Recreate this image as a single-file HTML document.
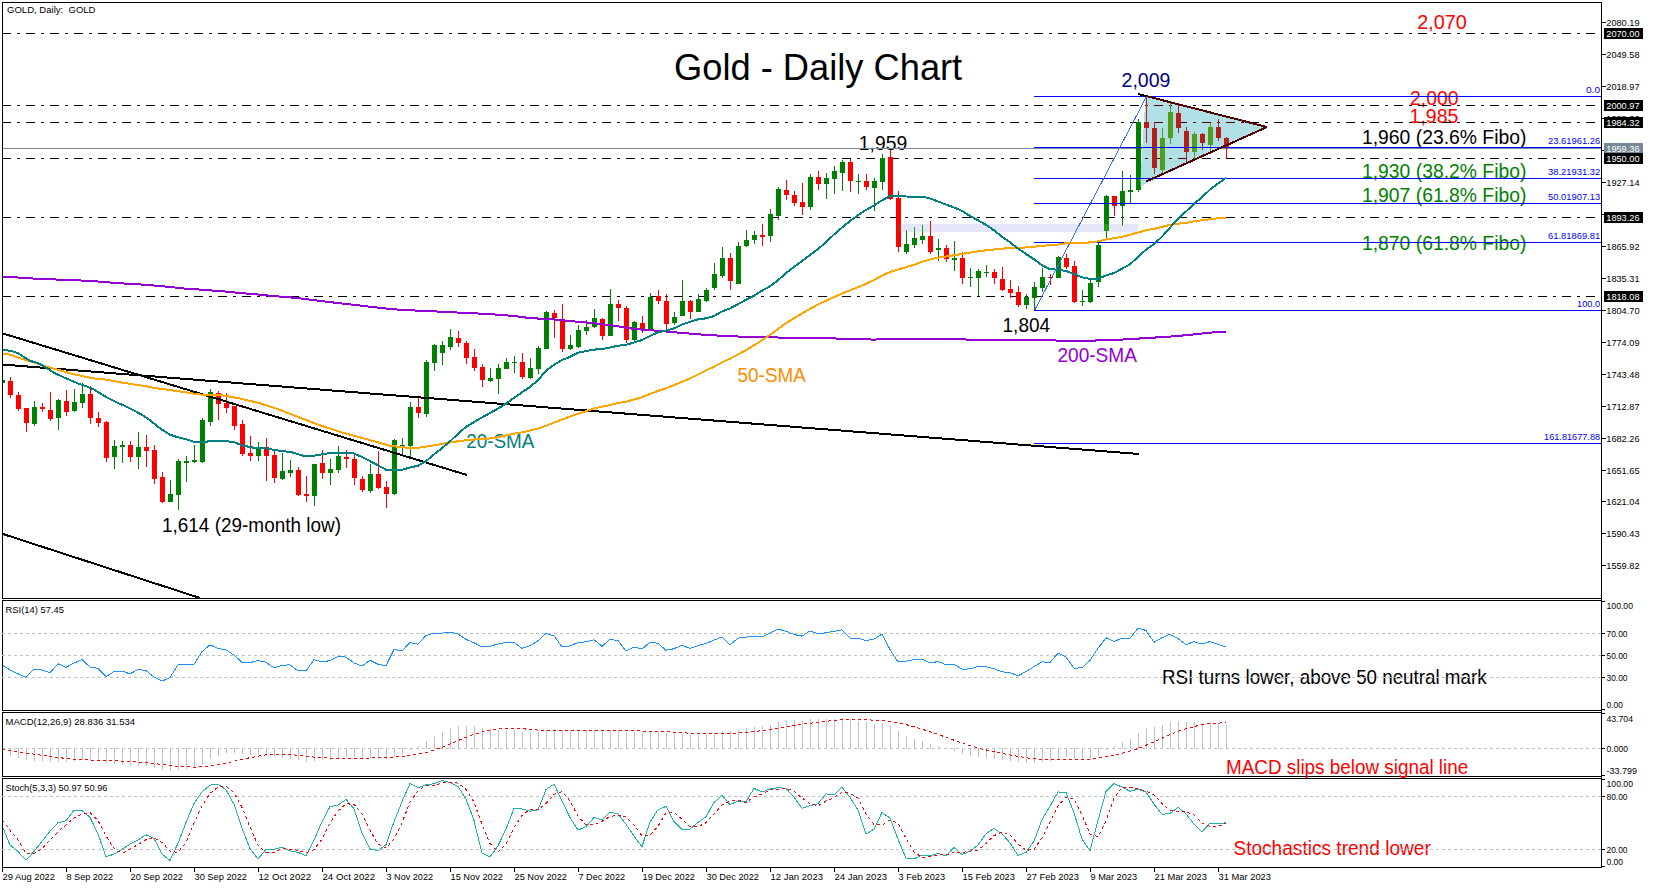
<!DOCTYPE html><html><head><meta charset="utf-8"><style>html,body{margin:0;padding:0;background:#fff;overflow:hidden;font-family:"Liberation Sans",sans-serif}svg{display:block}</style></head><body><svg width="1654" height="888" viewBox="0 0 1654 888" font-family="'Liberation Sans', sans-serif">
<rect x="0" y="0" width="1654" height="888" fill="#fff"/>
<defs><clipPath id="mainclip"><rect x="3" y="3" width="1598" height="595"/></clipPath><clipPath id="tri"><polygon points="1145.5,96 1267,126.5 1140,186.5"/></clipPath><clipPath id="rsiclip"><rect x="3" y="601" width="1598" height="109"/></clipPath><clipPath id="macdclip"><rect x="3" y="713" width="1598" height="63"/></clipPath><clipPath id="lav"><rect x="898" y="224" width="240" height="8"/></clipPath><clipPath id="stclip"><rect x="3" y="779" width="1598" height="88"/></clipPath></defs>
<g clip-path="url(#mainclip)" shape-rendering="crispEdges">
<rect x="898" y="224" width="240" height="8" fill="#E6E6FA"/>
</g>
<text x="7" y="13" font-size="9.5" fill="#000" textLength="88.5" lengthAdjust="spacingAndGlyphs" >GOLD, Daily:&#160; GOLD</text>
<text x="674.0" y="80" font-size="37.33" fill="#000" textLength="288.2" lengthAdjust="spacingAndGlyphs" >Gold - Daily Chart</text>
<text x="1417.2" y="29" font-size="19.3" fill="#FF0000" textLength="49.6" lengthAdjust="spacingAndGlyphs" >2,070</text>
<text x="1121.6" y="87" font-size="19.3" fill="#000080" textLength="48.8" lengthAdjust="spacingAndGlyphs" >2,009</text>
<text x="1410.0" y="105" font-size="19.3" fill="#FF0000" textLength="48.4" lengthAdjust="spacingAndGlyphs" >2,000</text>
<text x="1409.6" y="123" font-size="19.3" fill="#FF0000" textLength="48.8" lengthAdjust="spacingAndGlyphs" >1,985</text>
<text x="1362.0" y="144" font-size="19.3" fill="#000" textLength="164.4" lengthAdjust="spacingAndGlyphs" >1,960 (23.6% Fibo)</text>
<text x="858.8" y="150" font-size="19.3" fill="#000" textLength="48.4" lengthAdjust="spacingAndGlyphs" >1,959</text>
<text x="1362.0" y="178" font-size="19.3" fill="#008000" textLength="164.4" lengthAdjust="spacingAndGlyphs" >1,930 (38.2% Fibo)</text>
<text x="1362.0" y="202" font-size="19.3" fill="#008000" textLength="164.4" lengthAdjust="spacingAndGlyphs" >1,907 (61.8% Fibo)</text>
<text x="1362.0" y="250" font-size="19.3" fill="#008000" textLength="164.4" lengthAdjust="spacingAndGlyphs" >1,870 (61.8% Fibo)</text>
<text x="1002.6" y="332" font-size="19.3" fill="#000" textLength="47.4" lengthAdjust="spacingAndGlyphs" >1,804</text>
<text x="1057.4" y="362" font-size="19.3" fill="#9400D3" textLength="79.6" lengthAdjust="spacingAndGlyphs" >200-SMA</text>
<text x="737.6" y="382" font-size="19.3" fill="#FF8C00" textLength="68.2" lengthAdjust="spacingAndGlyphs" >50-SMA</text>
<text x="466.2" y="448" font-size="19.3" fill="#008080" textLength="68.2" lengthAdjust="spacingAndGlyphs" >20-SMA</text>
<text x="162.0" y="532" font-size="19.3" fill="#000" textLength="179.0" lengthAdjust="spacingAndGlyphs" >1,614 (29-month low)</text>
<g clip-path="url(#mainclip)" shape-rendering="crispEdges">
<line x1="2" y1="33.5" x2="1601" y2="33.5" stroke="#000" stroke-width="1" stroke-dasharray="9 6 3 6"/>
<line x1="2" y1="105.5" x2="1601" y2="105.5" stroke="#000" stroke-width="1" stroke-dasharray="9 6 3 6"/>
<line x1="2" y1="122.5" x2="1601" y2="122.5" stroke="#000" stroke-width="1" stroke-dasharray="9 6 3 6"/>
<line x1="2" y1="158.5" x2="1601" y2="158.5" stroke="#000" stroke-width="1" stroke-dasharray="9 6 3 6"/>
<line x1="2" y1="217.5" x2="1601" y2="217.5" stroke="#000" stroke-width="1" stroke-dasharray="9 6 3 6"/>
<line x1="2" y1="296.5" x2="1601" y2="296.5" stroke="#000" stroke-width="1" stroke-dasharray="9 6 3 6"/>
<line x1="2" y1="148.5" x2="1601" y2="148.5" stroke="#778899" stroke-width="1"/>
<rect x="2" y="380" width="1" height="3" fill="#008000"/>
<rect x="0" y="380" width="5" height="3" fill="#008000"/>
<rect x="10" y="377" width="1" height="21" fill="#FF0000"/>
<rect x="8" y="381" width="5" height="14" fill="#FF0000"/>
<rect x="18" y="392" width="1" height="19" fill="#FF0000"/>
<rect x="16" y="395" width="5" height="14" fill="#FF0000"/>
<rect x="26" y="408" width="1" height="24" fill="#FF0000"/>
<rect x="24" y="408" width="5" height="15" fill="#FF0000"/>
<rect x="34" y="401" width="1" height="25" fill="#008000"/>
<rect x="32" y="407" width="5" height="17" fill="#008000"/>
<rect x="42" y="403" width="1" height="9" fill="#FF0000"/>
<rect x="40" y="407" width="5" height="2" fill="#FF0000"/>
<rect x="50" y="392" width="1" height="29" fill="#FF0000"/>
<rect x="48" y="410" width="5" height="9" fill="#FF0000"/>
<rect x="58" y="399" width="1" height="31" fill="#008000"/>
<rect x="56" y="400" width="5" height="18" fill="#008000"/>
<rect x="66" y="390" width="1" height="26" fill="#FF0000"/>
<rect x="64" y="401" width="5" height="11" fill="#FF0000"/>
<rect x="74" y="389" width="1" height="23" fill="#008000"/>
<rect x="72" y="402" width="5" height="9" fill="#008000"/>
<rect x="82" y="383" width="1" height="25" fill="#008000"/>
<rect x="80" y="394" width="5" height="9" fill="#008000"/>
<rect x="90" y="386" width="1" height="38" fill="#FF0000"/>
<rect x="88" y="394" width="5" height="24" fill="#FF0000"/>
<rect x="98" y="412" width="1" height="15" fill="#FF0000"/>
<rect x="96" y="418" width="5" height="5" fill="#FF0000"/>
<rect x="106" y="421" width="1" height="41" fill="#FF0000"/>
<rect x="104" y="422" width="5" height="36" fill="#FF0000"/>
<rect x="114" y="440" width="1" height="29" fill="#008000"/>
<rect x="112" y="446" width="5" height="11" fill="#008000"/>
<rect x="122" y="441" width="1" height="22" fill="#008000"/>
<rect x="120" y="445" width="5" height="2" fill="#008000"/>
<rect x="130" y="441" width="1" height="21" fill="#FF0000"/>
<rect x="128" y="445" width="5" height="12" fill="#FF0000"/>
<rect x="138" y="432" width="1" height="37" fill="#008000"/>
<rect x="136" y="447" width="5" height="10" fill="#008000"/>
<rect x="146" y="435" width="1" height="32" fill="#FF0000"/>
<rect x="144" y="447" width="5" height="4" fill="#FF0000"/>
<rect x="154" y="445" width="1" height="39" fill="#FF0000"/>
<rect x="152" y="450" width="5" height="29" fill="#FF0000"/>
<rect x="162" y="472" width="1" height="31" fill="#FF0000"/>
<rect x="160" y="477" width="5" height="25" fill="#FF0000"/>
<rect x="170" y="480" width="1" height="22" fill="#008000"/>
<rect x="168" y="494" width="5" height="8" fill="#008000"/>
<rect x="178" y="459" width="1" height="51" fill="#008000"/>
<rect x="176" y="461" width="5" height="34" fill="#008000"/>
<rect x="186" y="456" width="1" height="26" fill="#008000"/>
<rect x="184" y="461" width="5" height="2" fill="#008000"/>
<rect x="194" y="445" width="1" height="18" fill="#008000"/>
<rect x="192" y="460" width="5" height="2" fill="#008000"/>
<rect x="202" y="418" width="1" height="45" fill="#008000"/>
<rect x="200" y="420" width="5" height="42" fill="#008000"/>
<rect x="210" y="389" width="1" height="37" fill="#008000"/>
<rect x="208" y="392" width="5" height="30" fill="#008000"/>
<rect x="218" y="391" width="1" height="29" fill="#FF0000"/>
<rect x="216" y="393" width="5" height="11" fill="#FF0000"/>
<rect x="226" y="393" width="1" height="20" fill="#FF0000"/>
<rect x="224" y="403" width="5" height="5" fill="#FF0000"/>
<rect x="234" y="406" width="1" height="24" fill="#FF0000"/>
<rect x="232" y="406" width="5" height="20" fill="#FF0000"/>
<rect x="242" y="420" width="1" height="36" fill="#FF0000"/>
<rect x="240" y="424" width="5" height="30" fill="#FF0000"/>
<rect x="250" y="436" width="1" height="25" fill="#FF0000"/>
<rect x="248" y="453" width="5" height="3" fill="#FF0000"/>
<rect x="258" y="442" width="1" height="19" fill="#008000"/>
<rect x="256" y="449" width="5" height="7" fill="#008000"/>
<rect x="266" y="438" width="1" height="43" fill="#FF0000"/>
<rect x="264" y="447" width="5" height="9" fill="#FF0000"/>
<rect x="274" y="451" width="1" height="32" fill="#FF0000"/>
<rect x="272" y="455" width="5" height="23" fill="#FF0000"/>
<rect x="282" y="453" width="1" height="27" fill="#008000"/>
<rect x="280" y="471" width="5" height="8" fill="#008000"/>
<rect x="290" y="460" width="1" height="17" fill="#008000"/>
<rect x="288" y="470" width="5" height="3" fill="#008000"/>
<rect x="298" y="467" width="1" height="29" fill="#FF0000"/>
<rect x="296" y="470" width="5" height="25" fill="#FF0000"/>
<rect x="306" y="476" width="1" height="26" fill="#FF0000"/>
<rect x="304" y="494" width="5" height="2" fill="#FF0000"/>
<rect x="314" y="464" width="1" height="42" fill="#008000"/>
<rect x="312" y="464" width="5" height="32" fill="#008000"/>
<rect x="322" y="450" width="1" height="29" fill="#FF0000"/>
<rect x="320" y="463" width="5" height="10" fill="#FF0000"/>
<rect x="330" y="459" width="1" height="26" fill="#008000"/>
<rect x="328" y="469" width="5" height="4" fill="#008000"/>
<rect x="338" y="446" width="1" height="27" fill="#008000"/>
<rect x="336" y="456" width="5" height="14" fill="#008000"/>
<rect x="346" y="450" width="1" height="18" fill="#FF0000"/>
<rect x="344" y="457" width="5" height="2" fill="#FF0000"/>
<rect x="354" y="455" width="1" height="30" fill="#FF0000"/>
<rect x="352" y="459" width="5" height="19" fill="#FF0000"/>
<rect x="362" y="476" width="1" height="16" fill="#FF0000"/>
<rect x="360" y="479" width="5" height="11" fill="#FF0000"/>
<rect x="370" y="464" width="1" height="29" fill="#008000"/>
<rect x="368" y="474" width="5" height="17" fill="#008000"/>
<rect x="378" y="451" width="1" height="38" fill="#FF0000"/>
<rect x="376" y="474" width="5" height="14" fill="#FF0000"/>
<rect x="386" y="481" width="1" height="27" fill="#FF0000"/>
<rect x="384" y="487" width="5" height="7" fill="#FF0000"/>
<rect x="394" y="439" width="1" height="56" fill="#008000"/>
<rect x="392" y="440" width="5" height="54" fill="#008000"/>
<rect x="402" y="438" width="1" height="17" fill="#008000"/>
<rect x="400" y="445" width="5" height="1" fill="#008000"/>
<rect x="410" y="402" width="1" height="55" fill="#008000"/>
<rect x="408" y="407" width="5" height="39" fill="#008000"/>
<rect x="418" y="396" width="1" height="22" fill="#FF0000"/>
<rect x="416" y="407" width="5" height="6" fill="#FF0000"/>
<rect x="426" y="360" width="1" height="57" fill="#008000"/>
<rect x="424" y="362" width="5" height="52" fill="#008000"/>
<rect x="434" y="344" width="1" height="27" fill="#008000"/>
<rect x="432" y="345" width="5" height="18" fill="#008000"/>
<rect x="442" y="341" width="1" height="24" fill="#008000"/>
<rect x="440" y="345" width="5" height="8" fill="#008000"/>
<rect x="450" y="329" width="1" height="21" fill="#008000"/>
<rect x="448" y="337" width="5" height="10" fill="#008000"/>
<rect x="458" y="331" width="1" height="16" fill="#FF0000"/>
<rect x="456" y="338" width="5" height="5" fill="#FF0000"/>
<rect x="466" y="341" width="1" height="23" fill="#FF0000"/>
<rect x="464" y="343" width="5" height="15" fill="#FF0000"/>
<rect x="474" y="349" width="1" height="22" fill="#FF0000"/>
<rect x="472" y="357" width="5" height="11" fill="#FF0000"/>
<rect x="482" y="364" width="1" height="23" fill="#FF0000"/>
<rect x="480" y="367" width="5" height="13" fill="#FF0000"/>
<rect x="490" y="368" width="1" height="14" fill="#008000"/>
<rect x="488" y="378" width="5" height="3" fill="#008000"/>
<rect x="498" y="364" width="1" height="30" fill="#008000"/>
<rect x="496" y="368" width="5" height="11" fill="#008000"/>
<rect x="506" y="358" width="1" height="11" fill="#008000"/>
<rect x="504" y="362" width="5" height="7" fill="#008000"/>
<rect x="514" y="356" width="1" height="17" fill="#008000"/>
<rect x="512" y="362" width="5" height="1" fill="#008000"/>
<rect x="522" y="353" width="1" height="26" fill="#FF0000"/>
<rect x="520" y="362" width="5" height="15" fill="#FF0000"/>
<rect x="530" y="358" width="1" height="21" fill="#008000"/>
<rect x="528" y="368" width="5" height="10" fill="#008000"/>
<rect x="538" y="346" width="1" height="28" fill="#008000"/>
<rect x="536" y="348" width="5" height="21" fill="#008000"/>
<rect x="546" y="311" width="1" height="38" fill="#008000"/>
<rect x="544" y="312" width="5" height="37" fill="#008000"/>
<rect x="554" y="310" width="1" height="28" fill="#FF0000"/>
<rect x="552" y="313" width="5" height="5" fill="#FF0000"/>
<rect x="562" y="304" width="1" height="48" fill="#FF0000"/>
<rect x="560" y="319" width="5" height="30" fill="#FF0000"/>
<rect x="570" y="335" width="1" height="15" fill="#008000"/>
<rect x="568" y="345" width="5" height="4" fill="#008000"/>
<rect x="578" y="325" width="1" height="23" fill="#008000"/>
<rect x="576" y="330" width="5" height="17" fill="#008000"/>
<rect x="586" y="320" width="1" height="15" fill="#008000"/>
<rect x="584" y="327" width="5" height="4" fill="#008000"/>
<rect x="594" y="309" width="1" height="19" fill="#008000"/>
<rect x="592" y="318" width="5" height="9" fill="#008000"/>
<rect x="602" y="318" width="1" height="22" fill="#FF0000"/>
<rect x="600" y="319" width="5" height="17" fill="#FF0000"/>
<rect x="610" y="289" width="1" height="47" fill="#008000"/>
<rect x="608" y="304" width="5" height="32" fill="#008000"/>
<rect x="618" y="300" width="1" height="21" fill="#FF0000"/>
<rect x="616" y="304" width="5" height="4" fill="#FF0000"/>
<rect x="626" y="306" width="1" height="37" fill="#FF0000"/>
<rect x="624" y="308" width="5" height="32" fill="#FF0000"/>
<rect x="634" y="321" width="1" height="20" fill="#008000"/>
<rect x="632" y="322" width="5" height="18" fill="#008000"/>
<rect x="642" y="316" width="1" height="17" fill="#FF0000"/>
<rect x="640" y="323" width="5" height="6" fill="#FF0000"/>
<rect x="650" y="293" width="1" height="36" fill="#008000"/>
<rect x="648" y="297" width="5" height="32" fill="#008000"/>
<rect x="658" y="290" width="1" height="14" fill="#FF0000"/>
<rect x="656" y="296" width="5" height="5" fill="#FF0000"/>
<rect x="666" y="294" width="1" height="35" fill="#FF0000"/>
<rect x="664" y="301" width="5" height="23" fill="#FF0000"/>
<rect x="674" y="312" width="1" height="13" fill="#008000"/>
<rect x="672" y="317" width="5" height="6" fill="#008000"/>
<rect x="682" y="280" width="1" height="36" fill="#008000"/>
<rect x="680" y="301" width="5" height="15" fill="#008000"/>
<rect x="690" y="300" width="1" height="19" fill="#FF0000"/>
<rect x="688" y="301" width="5" height="11" fill="#FF0000"/>
<rect x="698" y="294" width="1" height="18" fill="#008000"/>
<rect x="696" y="299" width="5" height="13" fill="#008000"/>
<rect x="706" y="288" width="1" height="14" fill="#008000"/>
<rect x="704" y="290" width="5" height="11" fill="#008000"/>
<rect x="714" y="263" width="1" height="27" fill="#008000"/>
<rect x="712" y="274" width="5" height="14" fill="#008000"/>
<rect x="722" y="247" width="1" height="31" fill="#008000"/>
<rect x="720" y="258" width="5" height="18" fill="#008000"/>
<rect x="730" y="253" width="1" height="37" fill="#FF0000"/>
<rect x="728" y="258" width="5" height="23" fill="#FF0000"/>
<rect x="738" y="242" width="1" height="42" fill="#008000"/>
<rect x="736" y="246" width="5" height="38" fill="#008000"/>
<rect x="746" y="230" width="1" height="17" fill="#008000"/>
<rect x="744" y="240" width="5" height="6" fill="#008000"/>
<rect x="754" y="231" width="1" height="13" fill="#008000"/>
<rect x="752" y="235" width="5" height="5" fill="#008000"/>
<rect x="762" y="224" width="1" height="22" fill="#FF0000"/>
<rect x="760" y="235" width="5" height="2" fill="#FF0000"/>
<rect x="770" y="209" width="1" height="33" fill="#008000"/>
<rect x="768" y="214" width="5" height="22" fill="#008000"/>
<rect x="778" y="187" width="1" height="33" fill="#008000"/>
<rect x="776" y="189" width="5" height="27" fill="#008000"/>
<rect x="786" y="180" width="1" height="20" fill="#FF0000"/>
<rect x="784" y="190" width="5" height="5" fill="#FF0000"/>
<rect x="794" y="191" width="1" height="15" fill="#FF0000"/>
<rect x="792" y="195" width="5" height="8" fill="#FF0000"/>
<rect x="802" y="183" width="1" height="32" fill="#FF0000"/>
<rect x="800" y="202" width="5" height="5" fill="#FF0000"/>
<rect x="810" y="174" width="1" height="36" fill="#008000"/>
<rect x="808" y="177" width="5" height="30" fill="#008000"/>
<rect x="818" y="171" width="1" height="19" fill="#FF0000"/>
<rect x="816" y="177" width="5" height="7" fill="#FF0000"/>
<rect x="826" y="173" width="1" height="26" fill="#008000"/>
<rect x="824" y="178" width="5" height="6" fill="#008000"/>
<rect x="834" y="166" width="1" height="28" fill="#008000"/>
<rect x="832" y="171" width="5" height="8" fill="#008000"/>
<rect x="842" y="160" width="1" height="31" fill="#008000"/>
<rect x="840" y="162" width="5" height="11" fill="#008000"/>
<rect x="850" y="159" width="1" height="33" fill="#FF0000"/>
<rect x="848" y="162" width="5" height="19" fill="#FF0000"/>
<rect x="858" y="174" width="1" height="20" fill="#008000"/>
<rect x="856" y="181" width="5" height="1" fill="#008000"/>
<rect x="866" y="174" width="1" height="16" fill="#FF0000"/>
<rect x="864" y="181" width="5" height="6" fill="#FF0000"/>
<rect x="874" y="178" width="1" height="33" fill="#008000"/>
<rect x="872" y="181" width="5" height="7" fill="#008000"/>
<rect x="882" y="154" width="1" height="36" fill="#008000"/>
<rect x="880" y="158" width="5" height="24" fill="#008000"/>
<rect x="890" y="150" width="1" height="50" fill="#FF0000"/>
<rect x="888" y="157" width="5" height="42" fill="#FF0000"/>
<rect x="898" y="191" width="1" height="61" fill="#FF0000"/>
<rect x="896" y="198" width="5" height="49" fill="#FF0000"/>
<rect x="906" y="230" width="1" height="24" fill="#008000"/>
<rect x="904" y="244" width="5" height="8" fill="#008000"/>
<rect x="914" y="227" width="1" height="21" fill="#008000"/>
<rect x="912" y="238" width="5" height="7" fill="#008000"/>
<rect x="922" y="225" width="1" height="19" fill="#008000"/>
<rect x="920" y="236" width="5" height="4" fill="#008000"/>
<rect x="930" y="221" width="1" height="33" fill="#FF0000"/>
<rect x="928" y="236" width="5" height="16" fill="#FF0000"/>
<rect x="938" y="239" width="1" height="22" fill="#008000"/>
<rect x="936" y="248" width="5" height="2" fill="#008000"/>
<rect x="946" y="245" width="1" height="17" fill="#FF0000"/>
<rect x="944" y="248" width="5" height="11" fill="#FF0000"/>
<rect x="954" y="241" width="1" height="30" fill="#008000"/>
<rect x="952" y="258" width="5" height="2" fill="#008000"/>
<rect x="962" y="252" width="1" height="32" fill="#FF0000"/>
<rect x="960" y="258" width="5" height="20" fill="#FF0000"/>
<rect x="970" y="268" width="1" height="19" fill="#008000"/>
<rect x="968" y="277" width="5" height="1" fill="#008000"/>
<rect x="978" y="269" width="1" height="27" fill="#008000"/>
<rect x="976" y="271" width="5" height="7" fill="#008000"/>
<rect x="986" y="265" width="1" height="12" fill="#008000"/>
<rect x="984" y="272" width="5" height="1" fill="#008000"/>
<rect x="994" y="269" width="1" height="15" fill="#FF0000"/>
<rect x="992" y="272" width="5" height="6" fill="#FF0000"/>
<rect x="1002" y="267" width="1" height="24" fill="#FF0000"/>
<rect x="1000" y="279" width="5" height="11" fill="#FF0000"/>
<rect x="1010" y="280" width="1" height="18" fill="#FF0000"/>
<rect x="1008" y="289" width="5" height="4" fill="#FF0000"/>
<rect x="1018" y="286" width="1" height="21" fill="#FF0000"/>
<rect x="1016" y="292" width="5" height="13" fill="#FF0000"/>
<rect x="1026" y="294" width="1" height="15" fill="#008000"/>
<rect x="1024" y="297" width="5" height="8" fill="#008000"/>
<rect x="1034" y="282" width="1" height="28" fill="#008000"/>
<rect x="1032" y="287" width="5" height="11" fill="#008000"/>
<rect x="1042" y="268" width="1" height="24" fill="#008000"/>
<rect x="1040" y="277" width="5" height="11" fill="#008000"/>
<rect x="1050" y="274" width="1" height="11" fill="#FF0000"/>
<rect x="1048" y="277" width="5" height="1" fill="#FF0000"/>
<rect x="1058" y="256" width="1" height="22" fill="#008000"/>
<rect x="1056" y="257" width="5" height="21" fill="#008000"/>
<rect x="1066" y="254" width="1" height="15" fill="#FF0000"/>
<rect x="1064" y="258" width="5" height="9" fill="#FF0000"/>
<rect x="1074" y="261" width="1" height="42" fill="#FF0000"/>
<rect x="1072" y="266" width="5" height="36" fill="#FF0000"/>
<rect x="1082" y="290" width="1" height="16" fill="#008000"/>
<rect x="1080" y="301" width="5" height="1" fill="#008000"/>
<rect x="1090" y="280" width="1" height="23" fill="#008000"/>
<rect x="1088" y="283" width="5" height="19" fill="#008000"/>
<rect x="1098" y="243" width="1" height="44" fill="#008000"/>
<rect x="1096" y="245" width="5" height="37" fill="#008000"/>
<rect x="1106" y="195" width="1" height="43" fill="#008000"/>
<rect x="1104" y="196" width="5" height="35" fill="#008000"/>
<rect x="1114" y="196" width="1" height="20" fill="#FF0000"/>
<rect x="1112" y="196" width="5" height="10" fill="#FF0000"/>
<rect x="1122" y="171" width="1" height="55" fill="#008000"/>
<rect x="1120" y="191" width="5" height="15" fill="#008000"/>
<rect x="1130" y="175" width="1" height="28" fill="#008000"/>
<rect x="1128" y="190" width="5" height="2" fill="#008000"/>
<rect x="1138" y="119" width="1" height="73" fill="#008000"/>
<rect x="1136" y="122" width="5" height="68" fill="#008000"/>
<rect x="1146" y="96" width="1" height="47" fill="#FF0000"/>
<rect x="1144" y="122" width="5" height="6" fill="#FF0000"/>
<rect x="1154" y="122" width="1" height="52" fill="#FF0000"/>
<rect x="1152" y="128" width="5" height="40" fill="#FF0000"/>
<rect x="1162" y="128" width="1" height="45" fill="#008000"/>
<rect x="1160" y="138" width="5" height="32" fill="#008000"/>
<rect x="1170" y="103" width="1" height="41" fill="#008000"/>
<rect x="1168" y="112" width="5" height="26" fill="#008000"/>
<rect x="1178" y="105" width="1" height="28" fill="#FF0000"/>
<rect x="1176" y="113" width="5" height="15" fill="#FF0000"/>
<rect x="1186" y="127" width="1" height="35" fill="#FF0000"/>
<rect x="1184" y="131" width="5" height="21" fill="#FF0000"/>
<rect x="1194" y="132" width="1" height="27" fill="#008000"/>
<rect x="1192" y="134" width="5" height="18" fill="#008000"/>
<rect x="1202" y="133" width="1" height="17" fill="#FF0000"/>
<rect x="1200" y="134" width="5" height="9" fill="#FF0000"/>
<rect x="1210" y="123" width="1" height="29" fill="#008000"/>
<rect x="1208" y="127" width="5" height="18" fill="#008000"/>
<rect x="1218" y="119" width="1" height="22" fill="#FF0000"/>
<rect x="1216" y="127" width="5" height="11" fill="#FF0000"/>
<rect x="1226" y="137" width="1" height="21" fill="#FF0000"/>
<rect x="1224" y="138" width="5" height="10" fill="#FF0000"/>
</g>
<g clip-path="url(#lav)" shape-rendering="crispEdges">
<rect x="2" y="380" width="1" height="3" fill="#1E9E0A"/>
<rect x="0" y="380" width="5" height="3" fill="#1E9E0A"/>
<rect x="10" y="377" width="1" height="21" fill="#DC1E00"/>
<rect x="8" y="381" width="5" height="14" fill="#DC1E00"/>
<rect x="18" y="392" width="1" height="19" fill="#DC1E00"/>
<rect x="16" y="395" width="5" height="14" fill="#DC1E00"/>
<rect x="26" y="408" width="1" height="24" fill="#DC1E00"/>
<rect x="24" y="408" width="5" height="15" fill="#DC1E00"/>
<rect x="34" y="401" width="1" height="25" fill="#1E9E0A"/>
<rect x="32" y="407" width="5" height="17" fill="#1E9E0A"/>
<rect x="42" y="403" width="1" height="9" fill="#DC1E00"/>
<rect x="40" y="407" width="5" height="2" fill="#DC1E00"/>
<rect x="50" y="392" width="1" height="29" fill="#DC1E00"/>
<rect x="48" y="410" width="5" height="9" fill="#DC1E00"/>
<rect x="58" y="399" width="1" height="31" fill="#1E9E0A"/>
<rect x="56" y="400" width="5" height="18" fill="#1E9E0A"/>
<rect x="66" y="390" width="1" height="26" fill="#DC1E00"/>
<rect x="64" y="401" width="5" height="11" fill="#DC1E00"/>
<rect x="74" y="389" width="1" height="23" fill="#1E9E0A"/>
<rect x="72" y="402" width="5" height="9" fill="#1E9E0A"/>
<rect x="82" y="383" width="1" height="25" fill="#1E9E0A"/>
<rect x="80" y="394" width="5" height="9" fill="#1E9E0A"/>
<rect x="90" y="386" width="1" height="38" fill="#DC1E00"/>
<rect x="88" y="394" width="5" height="24" fill="#DC1E00"/>
<rect x="98" y="412" width="1" height="15" fill="#DC1E00"/>
<rect x="96" y="418" width="5" height="5" fill="#DC1E00"/>
<rect x="106" y="421" width="1" height="41" fill="#DC1E00"/>
<rect x="104" y="422" width="5" height="36" fill="#DC1E00"/>
<rect x="114" y="440" width="1" height="29" fill="#1E9E0A"/>
<rect x="112" y="446" width="5" height="11" fill="#1E9E0A"/>
<rect x="122" y="441" width="1" height="22" fill="#1E9E0A"/>
<rect x="120" y="445" width="5" height="2" fill="#1E9E0A"/>
<rect x="130" y="441" width="1" height="21" fill="#DC1E00"/>
<rect x="128" y="445" width="5" height="12" fill="#DC1E00"/>
<rect x="138" y="432" width="1" height="37" fill="#1E9E0A"/>
<rect x="136" y="447" width="5" height="10" fill="#1E9E0A"/>
<rect x="146" y="435" width="1" height="32" fill="#DC1E00"/>
<rect x="144" y="447" width="5" height="4" fill="#DC1E00"/>
<rect x="154" y="445" width="1" height="39" fill="#DC1E00"/>
<rect x="152" y="450" width="5" height="29" fill="#DC1E00"/>
<rect x="162" y="472" width="1" height="31" fill="#DC1E00"/>
<rect x="160" y="477" width="5" height="25" fill="#DC1E00"/>
<rect x="170" y="480" width="1" height="22" fill="#1E9E0A"/>
<rect x="168" y="494" width="5" height="8" fill="#1E9E0A"/>
<rect x="178" y="459" width="1" height="51" fill="#1E9E0A"/>
<rect x="176" y="461" width="5" height="34" fill="#1E9E0A"/>
<rect x="186" y="456" width="1" height="26" fill="#1E9E0A"/>
<rect x="184" y="461" width="5" height="2" fill="#1E9E0A"/>
<rect x="194" y="445" width="1" height="18" fill="#1E9E0A"/>
<rect x="192" y="460" width="5" height="2" fill="#1E9E0A"/>
<rect x="202" y="418" width="1" height="45" fill="#1E9E0A"/>
<rect x="200" y="420" width="5" height="42" fill="#1E9E0A"/>
<rect x="210" y="389" width="1" height="37" fill="#1E9E0A"/>
<rect x="208" y="392" width="5" height="30" fill="#1E9E0A"/>
<rect x="218" y="391" width="1" height="29" fill="#DC1E00"/>
<rect x="216" y="393" width="5" height="11" fill="#DC1E00"/>
<rect x="226" y="393" width="1" height="20" fill="#DC1E00"/>
<rect x="224" y="403" width="5" height="5" fill="#DC1E00"/>
<rect x="234" y="406" width="1" height="24" fill="#DC1E00"/>
<rect x="232" y="406" width="5" height="20" fill="#DC1E00"/>
<rect x="242" y="420" width="1" height="36" fill="#DC1E00"/>
<rect x="240" y="424" width="5" height="30" fill="#DC1E00"/>
<rect x="250" y="436" width="1" height="25" fill="#DC1E00"/>
<rect x="248" y="453" width="5" height="3" fill="#DC1E00"/>
<rect x="258" y="442" width="1" height="19" fill="#1E9E0A"/>
<rect x="256" y="449" width="5" height="7" fill="#1E9E0A"/>
<rect x="266" y="438" width="1" height="43" fill="#DC1E00"/>
<rect x="264" y="447" width="5" height="9" fill="#DC1E00"/>
<rect x="274" y="451" width="1" height="32" fill="#DC1E00"/>
<rect x="272" y="455" width="5" height="23" fill="#DC1E00"/>
<rect x="282" y="453" width="1" height="27" fill="#1E9E0A"/>
<rect x="280" y="471" width="5" height="8" fill="#1E9E0A"/>
<rect x="290" y="460" width="1" height="17" fill="#1E9E0A"/>
<rect x="288" y="470" width="5" height="3" fill="#1E9E0A"/>
<rect x="298" y="467" width="1" height="29" fill="#DC1E00"/>
<rect x="296" y="470" width="5" height="25" fill="#DC1E00"/>
<rect x="306" y="476" width="1" height="26" fill="#DC1E00"/>
<rect x="304" y="494" width="5" height="2" fill="#DC1E00"/>
<rect x="314" y="464" width="1" height="42" fill="#1E9E0A"/>
<rect x="312" y="464" width="5" height="32" fill="#1E9E0A"/>
<rect x="322" y="450" width="1" height="29" fill="#DC1E00"/>
<rect x="320" y="463" width="5" height="10" fill="#DC1E00"/>
<rect x="330" y="459" width="1" height="26" fill="#1E9E0A"/>
<rect x="328" y="469" width="5" height="4" fill="#1E9E0A"/>
<rect x="338" y="446" width="1" height="27" fill="#1E9E0A"/>
<rect x="336" y="456" width="5" height="14" fill="#1E9E0A"/>
<rect x="346" y="450" width="1" height="18" fill="#DC1E00"/>
<rect x="344" y="457" width="5" height="2" fill="#DC1E00"/>
<rect x="354" y="455" width="1" height="30" fill="#DC1E00"/>
<rect x="352" y="459" width="5" height="19" fill="#DC1E00"/>
<rect x="362" y="476" width="1" height="16" fill="#DC1E00"/>
<rect x="360" y="479" width="5" height="11" fill="#DC1E00"/>
<rect x="370" y="464" width="1" height="29" fill="#1E9E0A"/>
<rect x="368" y="474" width="5" height="17" fill="#1E9E0A"/>
<rect x="378" y="451" width="1" height="38" fill="#DC1E00"/>
<rect x="376" y="474" width="5" height="14" fill="#DC1E00"/>
<rect x="386" y="481" width="1" height="27" fill="#DC1E00"/>
<rect x="384" y="487" width="5" height="7" fill="#DC1E00"/>
<rect x="394" y="439" width="1" height="56" fill="#1E9E0A"/>
<rect x="392" y="440" width="5" height="54" fill="#1E9E0A"/>
<rect x="402" y="438" width="1" height="17" fill="#1E9E0A"/>
<rect x="400" y="445" width="5" height="1" fill="#1E9E0A"/>
<rect x="410" y="402" width="1" height="55" fill="#1E9E0A"/>
<rect x="408" y="407" width="5" height="39" fill="#1E9E0A"/>
<rect x="418" y="396" width="1" height="22" fill="#DC1E00"/>
<rect x="416" y="407" width="5" height="6" fill="#DC1E00"/>
<rect x="426" y="360" width="1" height="57" fill="#1E9E0A"/>
<rect x="424" y="362" width="5" height="52" fill="#1E9E0A"/>
<rect x="434" y="344" width="1" height="27" fill="#1E9E0A"/>
<rect x="432" y="345" width="5" height="18" fill="#1E9E0A"/>
<rect x="442" y="341" width="1" height="24" fill="#1E9E0A"/>
<rect x="440" y="345" width="5" height="8" fill="#1E9E0A"/>
<rect x="450" y="329" width="1" height="21" fill="#1E9E0A"/>
<rect x="448" y="337" width="5" height="10" fill="#1E9E0A"/>
<rect x="458" y="331" width="1" height="16" fill="#DC1E00"/>
<rect x="456" y="338" width="5" height="5" fill="#DC1E00"/>
<rect x="466" y="341" width="1" height="23" fill="#DC1E00"/>
<rect x="464" y="343" width="5" height="15" fill="#DC1E00"/>
<rect x="474" y="349" width="1" height="22" fill="#DC1E00"/>
<rect x="472" y="357" width="5" height="11" fill="#DC1E00"/>
<rect x="482" y="364" width="1" height="23" fill="#DC1E00"/>
<rect x="480" y="367" width="5" height="13" fill="#DC1E00"/>
<rect x="490" y="368" width="1" height="14" fill="#1E9E0A"/>
<rect x="488" y="378" width="5" height="3" fill="#1E9E0A"/>
<rect x="498" y="364" width="1" height="30" fill="#1E9E0A"/>
<rect x="496" y="368" width="5" height="11" fill="#1E9E0A"/>
<rect x="506" y="358" width="1" height="11" fill="#1E9E0A"/>
<rect x="504" y="362" width="5" height="7" fill="#1E9E0A"/>
<rect x="514" y="356" width="1" height="17" fill="#1E9E0A"/>
<rect x="512" y="362" width="5" height="1" fill="#1E9E0A"/>
<rect x="522" y="353" width="1" height="26" fill="#DC1E00"/>
<rect x="520" y="362" width="5" height="15" fill="#DC1E00"/>
<rect x="530" y="358" width="1" height="21" fill="#1E9E0A"/>
<rect x="528" y="368" width="5" height="10" fill="#1E9E0A"/>
<rect x="538" y="346" width="1" height="28" fill="#1E9E0A"/>
<rect x="536" y="348" width="5" height="21" fill="#1E9E0A"/>
<rect x="546" y="311" width="1" height="38" fill="#1E9E0A"/>
<rect x="544" y="312" width="5" height="37" fill="#1E9E0A"/>
<rect x="554" y="310" width="1" height="28" fill="#DC1E00"/>
<rect x="552" y="313" width="5" height="5" fill="#DC1E00"/>
<rect x="562" y="304" width="1" height="48" fill="#DC1E00"/>
<rect x="560" y="319" width="5" height="30" fill="#DC1E00"/>
<rect x="570" y="335" width="1" height="15" fill="#1E9E0A"/>
<rect x="568" y="345" width="5" height="4" fill="#1E9E0A"/>
<rect x="578" y="325" width="1" height="23" fill="#1E9E0A"/>
<rect x="576" y="330" width="5" height="17" fill="#1E9E0A"/>
<rect x="586" y="320" width="1" height="15" fill="#1E9E0A"/>
<rect x="584" y="327" width="5" height="4" fill="#1E9E0A"/>
<rect x="594" y="309" width="1" height="19" fill="#1E9E0A"/>
<rect x="592" y="318" width="5" height="9" fill="#1E9E0A"/>
<rect x="602" y="318" width="1" height="22" fill="#DC1E00"/>
<rect x="600" y="319" width="5" height="17" fill="#DC1E00"/>
<rect x="610" y="289" width="1" height="47" fill="#1E9E0A"/>
<rect x="608" y="304" width="5" height="32" fill="#1E9E0A"/>
<rect x="618" y="300" width="1" height="21" fill="#DC1E00"/>
<rect x="616" y="304" width="5" height="4" fill="#DC1E00"/>
<rect x="626" y="306" width="1" height="37" fill="#DC1E00"/>
<rect x="624" y="308" width="5" height="32" fill="#DC1E00"/>
<rect x="634" y="321" width="1" height="20" fill="#1E9E0A"/>
<rect x="632" y="322" width="5" height="18" fill="#1E9E0A"/>
<rect x="642" y="316" width="1" height="17" fill="#DC1E00"/>
<rect x="640" y="323" width="5" height="6" fill="#DC1E00"/>
<rect x="650" y="293" width="1" height="36" fill="#1E9E0A"/>
<rect x="648" y="297" width="5" height="32" fill="#1E9E0A"/>
<rect x="658" y="290" width="1" height="14" fill="#DC1E00"/>
<rect x="656" y="296" width="5" height="5" fill="#DC1E00"/>
<rect x="666" y="294" width="1" height="35" fill="#DC1E00"/>
<rect x="664" y="301" width="5" height="23" fill="#DC1E00"/>
<rect x="674" y="312" width="1" height="13" fill="#1E9E0A"/>
<rect x="672" y="317" width="5" height="6" fill="#1E9E0A"/>
<rect x="682" y="280" width="1" height="36" fill="#1E9E0A"/>
<rect x="680" y="301" width="5" height="15" fill="#1E9E0A"/>
<rect x="690" y="300" width="1" height="19" fill="#DC1E00"/>
<rect x="688" y="301" width="5" height="11" fill="#DC1E00"/>
<rect x="698" y="294" width="1" height="18" fill="#1E9E0A"/>
<rect x="696" y="299" width="5" height="13" fill="#1E9E0A"/>
<rect x="706" y="288" width="1" height="14" fill="#1E9E0A"/>
<rect x="704" y="290" width="5" height="11" fill="#1E9E0A"/>
<rect x="714" y="263" width="1" height="27" fill="#1E9E0A"/>
<rect x="712" y="274" width="5" height="14" fill="#1E9E0A"/>
<rect x="722" y="247" width="1" height="31" fill="#1E9E0A"/>
<rect x="720" y="258" width="5" height="18" fill="#1E9E0A"/>
<rect x="730" y="253" width="1" height="37" fill="#DC1E00"/>
<rect x="728" y="258" width="5" height="23" fill="#DC1E00"/>
<rect x="738" y="242" width="1" height="42" fill="#1E9E0A"/>
<rect x="736" y="246" width="5" height="38" fill="#1E9E0A"/>
<rect x="746" y="230" width="1" height="17" fill="#1E9E0A"/>
<rect x="744" y="240" width="5" height="6" fill="#1E9E0A"/>
<rect x="754" y="231" width="1" height="13" fill="#1E9E0A"/>
<rect x="752" y="235" width="5" height="5" fill="#1E9E0A"/>
<rect x="762" y="224" width="1" height="22" fill="#DC1E00"/>
<rect x="760" y="235" width="5" height="2" fill="#DC1E00"/>
<rect x="770" y="209" width="1" height="33" fill="#1E9E0A"/>
<rect x="768" y="214" width="5" height="22" fill="#1E9E0A"/>
<rect x="778" y="187" width="1" height="33" fill="#1E9E0A"/>
<rect x="776" y="189" width="5" height="27" fill="#1E9E0A"/>
<rect x="786" y="180" width="1" height="20" fill="#DC1E00"/>
<rect x="784" y="190" width="5" height="5" fill="#DC1E00"/>
<rect x="794" y="191" width="1" height="15" fill="#DC1E00"/>
<rect x="792" y="195" width="5" height="8" fill="#DC1E00"/>
<rect x="802" y="183" width="1" height="32" fill="#DC1E00"/>
<rect x="800" y="202" width="5" height="5" fill="#DC1E00"/>
<rect x="810" y="174" width="1" height="36" fill="#1E9E0A"/>
<rect x="808" y="177" width="5" height="30" fill="#1E9E0A"/>
<rect x="818" y="171" width="1" height="19" fill="#DC1E00"/>
<rect x="816" y="177" width="5" height="7" fill="#DC1E00"/>
<rect x="826" y="173" width="1" height="26" fill="#1E9E0A"/>
<rect x="824" y="178" width="5" height="6" fill="#1E9E0A"/>
<rect x="834" y="166" width="1" height="28" fill="#1E9E0A"/>
<rect x="832" y="171" width="5" height="8" fill="#1E9E0A"/>
<rect x="842" y="160" width="1" height="31" fill="#1E9E0A"/>
<rect x="840" y="162" width="5" height="11" fill="#1E9E0A"/>
<rect x="850" y="159" width="1" height="33" fill="#DC1E00"/>
<rect x="848" y="162" width="5" height="19" fill="#DC1E00"/>
<rect x="858" y="174" width="1" height="20" fill="#1E9E0A"/>
<rect x="856" y="181" width="5" height="1" fill="#1E9E0A"/>
<rect x="866" y="174" width="1" height="16" fill="#DC1E00"/>
<rect x="864" y="181" width="5" height="6" fill="#DC1E00"/>
<rect x="874" y="178" width="1" height="33" fill="#1E9E0A"/>
<rect x="872" y="181" width="5" height="7" fill="#1E9E0A"/>
<rect x="882" y="154" width="1" height="36" fill="#1E9E0A"/>
<rect x="880" y="158" width="5" height="24" fill="#1E9E0A"/>
<rect x="890" y="150" width="1" height="50" fill="#DC1E00"/>
<rect x="888" y="157" width="5" height="42" fill="#DC1E00"/>
<rect x="898" y="191" width="1" height="61" fill="#DC1E00"/>
<rect x="896" y="198" width="5" height="49" fill="#DC1E00"/>
<rect x="906" y="230" width="1" height="24" fill="#1E9E0A"/>
<rect x="904" y="244" width="5" height="8" fill="#1E9E0A"/>
<rect x="914" y="227" width="1" height="21" fill="#1E9E0A"/>
<rect x="912" y="238" width="5" height="7" fill="#1E9E0A"/>
<rect x="922" y="225" width="1" height="19" fill="#1E9E0A"/>
<rect x="920" y="236" width="5" height="4" fill="#1E9E0A"/>
<rect x="930" y="221" width="1" height="33" fill="#DC1E00"/>
<rect x="928" y="236" width="5" height="16" fill="#DC1E00"/>
<rect x="938" y="239" width="1" height="22" fill="#1E9E0A"/>
<rect x="936" y="248" width="5" height="2" fill="#1E9E0A"/>
<rect x="946" y="245" width="1" height="17" fill="#DC1E00"/>
<rect x="944" y="248" width="5" height="11" fill="#DC1E00"/>
<rect x="954" y="241" width="1" height="30" fill="#1E9E0A"/>
<rect x="952" y="258" width="5" height="2" fill="#1E9E0A"/>
<rect x="962" y="252" width="1" height="32" fill="#DC1E00"/>
<rect x="960" y="258" width="5" height="20" fill="#DC1E00"/>
<rect x="970" y="268" width="1" height="19" fill="#1E9E0A"/>
<rect x="968" y="277" width="5" height="1" fill="#1E9E0A"/>
<rect x="978" y="269" width="1" height="27" fill="#1E9E0A"/>
<rect x="976" y="271" width="5" height="7" fill="#1E9E0A"/>
<rect x="986" y="265" width="1" height="12" fill="#1E9E0A"/>
<rect x="984" y="272" width="5" height="1" fill="#1E9E0A"/>
<rect x="994" y="269" width="1" height="15" fill="#DC1E00"/>
<rect x="992" y="272" width="5" height="6" fill="#DC1E00"/>
<rect x="1002" y="267" width="1" height="24" fill="#DC1E00"/>
<rect x="1000" y="279" width="5" height="11" fill="#DC1E00"/>
<rect x="1010" y="280" width="1" height="18" fill="#DC1E00"/>
<rect x="1008" y="289" width="5" height="4" fill="#DC1E00"/>
<rect x="1018" y="286" width="1" height="21" fill="#DC1E00"/>
<rect x="1016" y="292" width="5" height="13" fill="#DC1E00"/>
<rect x="1026" y="294" width="1" height="15" fill="#1E9E0A"/>
<rect x="1024" y="297" width="5" height="8" fill="#1E9E0A"/>
<rect x="1034" y="282" width="1" height="28" fill="#1E9E0A"/>
<rect x="1032" y="287" width="5" height="11" fill="#1E9E0A"/>
<rect x="1042" y="268" width="1" height="24" fill="#1E9E0A"/>
<rect x="1040" y="277" width="5" height="11" fill="#1E9E0A"/>
<rect x="1050" y="274" width="1" height="11" fill="#DC1E00"/>
<rect x="1048" y="277" width="5" height="1" fill="#DC1E00"/>
<rect x="1058" y="256" width="1" height="22" fill="#1E9E0A"/>
<rect x="1056" y="257" width="5" height="21" fill="#1E9E0A"/>
<rect x="1066" y="254" width="1" height="15" fill="#DC1E00"/>
<rect x="1064" y="258" width="5" height="9" fill="#DC1E00"/>
<rect x="1074" y="261" width="1" height="42" fill="#DC1E00"/>
<rect x="1072" y="266" width="5" height="36" fill="#DC1E00"/>
<rect x="1082" y="290" width="1" height="16" fill="#1E9E0A"/>
<rect x="1080" y="301" width="5" height="1" fill="#1E9E0A"/>
<rect x="1090" y="280" width="1" height="23" fill="#1E9E0A"/>
<rect x="1088" y="283" width="5" height="19" fill="#1E9E0A"/>
<rect x="1098" y="243" width="1" height="44" fill="#1E9E0A"/>
<rect x="1096" y="245" width="5" height="37" fill="#1E9E0A"/>
<rect x="1106" y="195" width="1" height="43" fill="#1E9E0A"/>
<rect x="1104" y="196" width="5" height="35" fill="#1E9E0A"/>
<rect x="1114" y="196" width="1" height="20" fill="#DC1E00"/>
<rect x="1112" y="196" width="5" height="10" fill="#DC1E00"/>
<rect x="1122" y="171" width="1" height="55" fill="#1E9E0A"/>
<rect x="1120" y="191" width="5" height="15" fill="#1E9E0A"/>
<rect x="1130" y="175" width="1" height="28" fill="#1E9E0A"/>
<rect x="1128" y="190" width="5" height="2" fill="#1E9E0A"/>
<rect x="1138" y="119" width="1" height="73" fill="#1E9E0A"/>
<rect x="1136" y="122" width="5" height="68" fill="#1E9E0A"/>
<rect x="1146" y="96" width="1" height="47" fill="#DC1E00"/>
<rect x="1144" y="122" width="5" height="6" fill="#DC1E00"/>
<rect x="1154" y="122" width="1" height="52" fill="#DC1E00"/>
<rect x="1152" y="128" width="5" height="40" fill="#DC1E00"/>
<rect x="1162" y="128" width="1" height="45" fill="#1E9E0A"/>
<rect x="1160" y="138" width="5" height="32" fill="#1E9E0A"/>
<rect x="1170" y="103" width="1" height="41" fill="#1E9E0A"/>
<rect x="1168" y="112" width="5" height="26" fill="#1E9E0A"/>
<rect x="1178" y="105" width="1" height="28" fill="#DC1E00"/>
<rect x="1176" y="113" width="5" height="15" fill="#DC1E00"/>
<rect x="1186" y="127" width="1" height="35" fill="#DC1E00"/>
<rect x="1184" y="131" width="5" height="21" fill="#DC1E00"/>
<rect x="1194" y="132" width="1" height="27" fill="#1E9E0A"/>
<rect x="1192" y="134" width="5" height="18" fill="#1E9E0A"/>
<rect x="1202" y="133" width="1" height="17" fill="#DC1E00"/>
<rect x="1200" y="134" width="5" height="9" fill="#DC1E00"/>
<rect x="1210" y="123" width="1" height="29" fill="#1E9E0A"/>
<rect x="1208" y="127" width="5" height="18" fill="#1E9E0A"/>
<rect x="1218" y="119" width="1" height="22" fill="#DC1E00"/>
<rect x="1216" y="127" width="5" height="11" fill="#DC1E00"/>
<rect x="1226" y="137" width="1" height="21" fill="#DC1E00"/>
<rect x="1224" y="138" width="5" height="10" fill="#DC1E00"/>
</g>
<polygon points="1145.5,96 1267,126.5 1140,186.5" fill="#B0E0E6" shape-rendering="crispEdges"/>
<g clip-path="url(#tri)" shape-rendering="crispEdges">
<line x1="2" y1="33.5" x2="1601" y2="33.5" stroke="#500000" stroke-width="1" stroke-dasharray="9 6 3 6"/>
<line x1="2" y1="105.5" x2="1601" y2="105.5" stroke="#500000" stroke-width="1" stroke-dasharray="9 6 3 6"/>
<line x1="2" y1="122.5" x2="1601" y2="122.5" stroke="#500000" stroke-width="1" stroke-dasharray="9 6 3 6"/>
<line x1="2" y1="158.5" x2="1601" y2="158.5" stroke="#500000" stroke-width="1" stroke-dasharray="9 6 3 6"/>
<line x1="2" y1="217.5" x2="1601" y2="217.5" stroke="#500000" stroke-width="1" stroke-dasharray="9 6 3 6"/>
<line x1="2" y1="296.5" x2="1601" y2="296.5" stroke="#500000" stroke-width="1" stroke-dasharray="9 6 3 6"/>
<rect x="2" y="380" width="1" height="3" fill="#509E1E"/>
<rect x="0" y="380" width="5" height="3" fill="#509E1E"/>
<rect x="10" y="377" width="1" height="21" fill="#B2201A"/>
<rect x="8" y="381" width="5" height="14" fill="#B2201A"/>
<rect x="18" y="392" width="1" height="19" fill="#B2201A"/>
<rect x="16" y="395" width="5" height="14" fill="#B2201A"/>
<rect x="26" y="408" width="1" height="24" fill="#B2201A"/>
<rect x="24" y="408" width="5" height="15" fill="#B2201A"/>
<rect x="34" y="401" width="1" height="25" fill="#509E1E"/>
<rect x="32" y="407" width="5" height="17" fill="#509E1E"/>
<rect x="42" y="403" width="1" height="9" fill="#B2201A"/>
<rect x="40" y="407" width="5" height="2" fill="#B2201A"/>
<rect x="50" y="392" width="1" height="29" fill="#B2201A"/>
<rect x="48" y="410" width="5" height="9" fill="#B2201A"/>
<rect x="58" y="399" width="1" height="31" fill="#509E1E"/>
<rect x="56" y="400" width="5" height="18" fill="#509E1E"/>
<rect x="66" y="390" width="1" height="26" fill="#B2201A"/>
<rect x="64" y="401" width="5" height="11" fill="#B2201A"/>
<rect x="74" y="389" width="1" height="23" fill="#509E1E"/>
<rect x="72" y="402" width="5" height="9" fill="#509E1E"/>
<rect x="82" y="383" width="1" height="25" fill="#509E1E"/>
<rect x="80" y="394" width="5" height="9" fill="#509E1E"/>
<rect x="90" y="386" width="1" height="38" fill="#B2201A"/>
<rect x="88" y="394" width="5" height="24" fill="#B2201A"/>
<rect x="98" y="412" width="1" height="15" fill="#B2201A"/>
<rect x="96" y="418" width="5" height="5" fill="#B2201A"/>
<rect x="106" y="421" width="1" height="41" fill="#B2201A"/>
<rect x="104" y="422" width="5" height="36" fill="#B2201A"/>
<rect x="114" y="440" width="1" height="29" fill="#509E1E"/>
<rect x="112" y="446" width="5" height="11" fill="#509E1E"/>
<rect x="122" y="441" width="1" height="22" fill="#509E1E"/>
<rect x="120" y="445" width="5" height="2" fill="#509E1E"/>
<rect x="130" y="441" width="1" height="21" fill="#B2201A"/>
<rect x="128" y="445" width="5" height="12" fill="#B2201A"/>
<rect x="138" y="432" width="1" height="37" fill="#509E1E"/>
<rect x="136" y="447" width="5" height="10" fill="#509E1E"/>
<rect x="146" y="435" width="1" height="32" fill="#B2201A"/>
<rect x="144" y="447" width="5" height="4" fill="#B2201A"/>
<rect x="154" y="445" width="1" height="39" fill="#B2201A"/>
<rect x="152" y="450" width="5" height="29" fill="#B2201A"/>
<rect x="162" y="472" width="1" height="31" fill="#B2201A"/>
<rect x="160" y="477" width="5" height="25" fill="#B2201A"/>
<rect x="170" y="480" width="1" height="22" fill="#509E1E"/>
<rect x="168" y="494" width="5" height="8" fill="#509E1E"/>
<rect x="178" y="459" width="1" height="51" fill="#509E1E"/>
<rect x="176" y="461" width="5" height="34" fill="#509E1E"/>
<rect x="186" y="456" width="1" height="26" fill="#509E1E"/>
<rect x="184" y="461" width="5" height="2" fill="#509E1E"/>
<rect x="194" y="445" width="1" height="18" fill="#509E1E"/>
<rect x="192" y="460" width="5" height="2" fill="#509E1E"/>
<rect x="202" y="418" width="1" height="45" fill="#509E1E"/>
<rect x="200" y="420" width="5" height="42" fill="#509E1E"/>
<rect x="210" y="389" width="1" height="37" fill="#509E1E"/>
<rect x="208" y="392" width="5" height="30" fill="#509E1E"/>
<rect x="218" y="391" width="1" height="29" fill="#B2201A"/>
<rect x="216" y="393" width="5" height="11" fill="#B2201A"/>
<rect x="226" y="393" width="1" height="20" fill="#B2201A"/>
<rect x="224" y="403" width="5" height="5" fill="#B2201A"/>
<rect x="234" y="406" width="1" height="24" fill="#B2201A"/>
<rect x="232" y="406" width="5" height="20" fill="#B2201A"/>
<rect x="242" y="420" width="1" height="36" fill="#B2201A"/>
<rect x="240" y="424" width="5" height="30" fill="#B2201A"/>
<rect x="250" y="436" width="1" height="25" fill="#B2201A"/>
<rect x="248" y="453" width="5" height="3" fill="#B2201A"/>
<rect x="258" y="442" width="1" height="19" fill="#509E1E"/>
<rect x="256" y="449" width="5" height="7" fill="#509E1E"/>
<rect x="266" y="438" width="1" height="43" fill="#B2201A"/>
<rect x="264" y="447" width="5" height="9" fill="#B2201A"/>
<rect x="274" y="451" width="1" height="32" fill="#B2201A"/>
<rect x="272" y="455" width="5" height="23" fill="#B2201A"/>
<rect x="282" y="453" width="1" height="27" fill="#509E1E"/>
<rect x="280" y="471" width="5" height="8" fill="#509E1E"/>
<rect x="290" y="460" width="1" height="17" fill="#509E1E"/>
<rect x="288" y="470" width="5" height="3" fill="#509E1E"/>
<rect x="298" y="467" width="1" height="29" fill="#B2201A"/>
<rect x="296" y="470" width="5" height="25" fill="#B2201A"/>
<rect x="306" y="476" width="1" height="26" fill="#B2201A"/>
<rect x="304" y="494" width="5" height="2" fill="#B2201A"/>
<rect x="314" y="464" width="1" height="42" fill="#509E1E"/>
<rect x="312" y="464" width="5" height="32" fill="#509E1E"/>
<rect x="322" y="450" width="1" height="29" fill="#B2201A"/>
<rect x="320" y="463" width="5" height="10" fill="#B2201A"/>
<rect x="330" y="459" width="1" height="26" fill="#509E1E"/>
<rect x="328" y="469" width="5" height="4" fill="#509E1E"/>
<rect x="338" y="446" width="1" height="27" fill="#509E1E"/>
<rect x="336" y="456" width="5" height="14" fill="#509E1E"/>
<rect x="346" y="450" width="1" height="18" fill="#B2201A"/>
<rect x="344" y="457" width="5" height="2" fill="#B2201A"/>
<rect x="354" y="455" width="1" height="30" fill="#B2201A"/>
<rect x="352" y="459" width="5" height="19" fill="#B2201A"/>
<rect x="362" y="476" width="1" height="16" fill="#B2201A"/>
<rect x="360" y="479" width="5" height="11" fill="#B2201A"/>
<rect x="370" y="464" width="1" height="29" fill="#509E1E"/>
<rect x="368" y="474" width="5" height="17" fill="#509E1E"/>
<rect x="378" y="451" width="1" height="38" fill="#B2201A"/>
<rect x="376" y="474" width="5" height="14" fill="#B2201A"/>
<rect x="386" y="481" width="1" height="27" fill="#B2201A"/>
<rect x="384" y="487" width="5" height="7" fill="#B2201A"/>
<rect x="394" y="439" width="1" height="56" fill="#509E1E"/>
<rect x="392" y="440" width="5" height="54" fill="#509E1E"/>
<rect x="402" y="438" width="1" height="17" fill="#509E1E"/>
<rect x="400" y="445" width="5" height="1" fill="#509E1E"/>
<rect x="410" y="402" width="1" height="55" fill="#509E1E"/>
<rect x="408" y="407" width="5" height="39" fill="#509E1E"/>
<rect x="418" y="396" width="1" height="22" fill="#B2201A"/>
<rect x="416" y="407" width="5" height="6" fill="#B2201A"/>
<rect x="426" y="360" width="1" height="57" fill="#509E1E"/>
<rect x="424" y="362" width="5" height="52" fill="#509E1E"/>
<rect x="434" y="344" width="1" height="27" fill="#509E1E"/>
<rect x="432" y="345" width="5" height="18" fill="#509E1E"/>
<rect x="442" y="341" width="1" height="24" fill="#509E1E"/>
<rect x="440" y="345" width="5" height="8" fill="#509E1E"/>
<rect x="450" y="329" width="1" height="21" fill="#509E1E"/>
<rect x="448" y="337" width="5" height="10" fill="#509E1E"/>
<rect x="458" y="331" width="1" height="16" fill="#B2201A"/>
<rect x="456" y="338" width="5" height="5" fill="#B2201A"/>
<rect x="466" y="341" width="1" height="23" fill="#B2201A"/>
<rect x="464" y="343" width="5" height="15" fill="#B2201A"/>
<rect x="474" y="349" width="1" height="22" fill="#B2201A"/>
<rect x="472" y="357" width="5" height="11" fill="#B2201A"/>
<rect x="482" y="364" width="1" height="23" fill="#B2201A"/>
<rect x="480" y="367" width="5" height="13" fill="#B2201A"/>
<rect x="490" y="368" width="1" height="14" fill="#509E1E"/>
<rect x="488" y="378" width="5" height="3" fill="#509E1E"/>
<rect x="498" y="364" width="1" height="30" fill="#509E1E"/>
<rect x="496" y="368" width="5" height="11" fill="#509E1E"/>
<rect x="506" y="358" width="1" height="11" fill="#509E1E"/>
<rect x="504" y="362" width="5" height="7" fill="#509E1E"/>
<rect x="514" y="356" width="1" height="17" fill="#509E1E"/>
<rect x="512" y="362" width="5" height="1" fill="#509E1E"/>
<rect x="522" y="353" width="1" height="26" fill="#B2201A"/>
<rect x="520" y="362" width="5" height="15" fill="#B2201A"/>
<rect x="530" y="358" width="1" height="21" fill="#509E1E"/>
<rect x="528" y="368" width="5" height="10" fill="#509E1E"/>
<rect x="538" y="346" width="1" height="28" fill="#509E1E"/>
<rect x="536" y="348" width="5" height="21" fill="#509E1E"/>
<rect x="546" y="311" width="1" height="38" fill="#509E1E"/>
<rect x="544" y="312" width="5" height="37" fill="#509E1E"/>
<rect x="554" y="310" width="1" height="28" fill="#B2201A"/>
<rect x="552" y="313" width="5" height="5" fill="#B2201A"/>
<rect x="562" y="304" width="1" height="48" fill="#B2201A"/>
<rect x="560" y="319" width="5" height="30" fill="#B2201A"/>
<rect x="570" y="335" width="1" height="15" fill="#509E1E"/>
<rect x="568" y="345" width="5" height="4" fill="#509E1E"/>
<rect x="578" y="325" width="1" height="23" fill="#509E1E"/>
<rect x="576" y="330" width="5" height="17" fill="#509E1E"/>
<rect x="586" y="320" width="1" height="15" fill="#509E1E"/>
<rect x="584" y="327" width="5" height="4" fill="#509E1E"/>
<rect x="594" y="309" width="1" height="19" fill="#509E1E"/>
<rect x="592" y="318" width="5" height="9" fill="#509E1E"/>
<rect x="602" y="318" width="1" height="22" fill="#B2201A"/>
<rect x="600" y="319" width="5" height="17" fill="#B2201A"/>
<rect x="610" y="289" width="1" height="47" fill="#509E1E"/>
<rect x="608" y="304" width="5" height="32" fill="#509E1E"/>
<rect x="618" y="300" width="1" height="21" fill="#B2201A"/>
<rect x="616" y="304" width="5" height="4" fill="#B2201A"/>
<rect x="626" y="306" width="1" height="37" fill="#B2201A"/>
<rect x="624" y="308" width="5" height="32" fill="#B2201A"/>
<rect x="634" y="321" width="1" height="20" fill="#509E1E"/>
<rect x="632" y="322" width="5" height="18" fill="#509E1E"/>
<rect x="642" y="316" width="1" height="17" fill="#B2201A"/>
<rect x="640" y="323" width="5" height="6" fill="#B2201A"/>
<rect x="650" y="293" width="1" height="36" fill="#509E1E"/>
<rect x="648" y="297" width="5" height="32" fill="#509E1E"/>
<rect x="658" y="290" width="1" height="14" fill="#B2201A"/>
<rect x="656" y="296" width="5" height="5" fill="#B2201A"/>
<rect x="666" y="294" width="1" height="35" fill="#B2201A"/>
<rect x="664" y="301" width="5" height="23" fill="#B2201A"/>
<rect x="674" y="312" width="1" height="13" fill="#509E1E"/>
<rect x="672" y="317" width="5" height="6" fill="#509E1E"/>
<rect x="682" y="280" width="1" height="36" fill="#509E1E"/>
<rect x="680" y="301" width="5" height="15" fill="#509E1E"/>
<rect x="690" y="300" width="1" height="19" fill="#B2201A"/>
<rect x="688" y="301" width="5" height="11" fill="#B2201A"/>
<rect x="698" y="294" width="1" height="18" fill="#509E1E"/>
<rect x="696" y="299" width="5" height="13" fill="#509E1E"/>
<rect x="706" y="288" width="1" height="14" fill="#509E1E"/>
<rect x="704" y="290" width="5" height="11" fill="#509E1E"/>
<rect x="714" y="263" width="1" height="27" fill="#509E1E"/>
<rect x="712" y="274" width="5" height="14" fill="#509E1E"/>
<rect x="722" y="247" width="1" height="31" fill="#509E1E"/>
<rect x="720" y="258" width="5" height="18" fill="#509E1E"/>
<rect x="730" y="253" width="1" height="37" fill="#B2201A"/>
<rect x="728" y="258" width="5" height="23" fill="#B2201A"/>
<rect x="738" y="242" width="1" height="42" fill="#509E1E"/>
<rect x="736" y="246" width="5" height="38" fill="#509E1E"/>
<rect x="746" y="230" width="1" height="17" fill="#509E1E"/>
<rect x="744" y="240" width="5" height="6" fill="#509E1E"/>
<rect x="754" y="231" width="1" height="13" fill="#509E1E"/>
<rect x="752" y="235" width="5" height="5" fill="#509E1E"/>
<rect x="762" y="224" width="1" height="22" fill="#B2201A"/>
<rect x="760" y="235" width="5" height="2" fill="#B2201A"/>
<rect x="770" y="209" width="1" height="33" fill="#509E1E"/>
<rect x="768" y="214" width="5" height="22" fill="#509E1E"/>
<rect x="778" y="187" width="1" height="33" fill="#509E1E"/>
<rect x="776" y="189" width="5" height="27" fill="#509E1E"/>
<rect x="786" y="180" width="1" height="20" fill="#B2201A"/>
<rect x="784" y="190" width="5" height="5" fill="#B2201A"/>
<rect x="794" y="191" width="1" height="15" fill="#B2201A"/>
<rect x="792" y="195" width="5" height="8" fill="#B2201A"/>
<rect x="802" y="183" width="1" height="32" fill="#B2201A"/>
<rect x="800" y="202" width="5" height="5" fill="#B2201A"/>
<rect x="810" y="174" width="1" height="36" fill="#509E1E"/>
<rect x="808" y="177" width="5" height="30" fill="#509E1E"/>
<rect x="818" y="171" width="1" height="19" fill="#B2201A"/>
<rect x="816" y="177" width="5" height="7" fill="#B2201A"/>
<rect x="826" y="173" width="1" height="26" fill="#509E1E"/>
<rect x="824" y="178" width="5" height="6" fill="#509E1E"/>
<rect x="834" y="166" width="1" height="28" fill="#509E1E"/>
<rect x="832" y="171" width="5" height="8" fill="#509E1E"/>
<rect x="842" y="160" width="1" height="31" fill="#509E1E"/>
<rect x="840" y="162" width="5" height="11" fill="#509E1E"/>
<rect x="850" y="159" width="1" height="33" fill="#B2201A"/>
<rect x="848" y="162" width="5" height="19" fill="#B2201A"/>
<rect x="858" y="174" width="1" height="20" fill="#509E1E"/>
<rect x="856" y="181" width="5" height="1" fill="#509E1E"/>
<rect x="866" y="174" width="1" height="16" fill="#B2201A"/>
<rect x="864" y="181" width="5" height="6" fill="#B2201A"/>
<rect x="874" y="178" width="1" height="33" fill="#509E1E"/>
<rect x="872" y="181" width="5" height="7" fill="#509E1E"/>
<rect x="882" y="154" width="1" height="36" fill="#509E1E"/>
<rect x="880" y="158" width="5" height="24" fill="#509E1E"/>
<rect x="890" y="150" width="1" height="50" fill="#B2201A"/>
<rect x="888" y="157" width="5" height="42" fill="#B2201A"/>
<rect x="898" y="191" width="1" height="61" fill="#B2201A"/>
<rect x="896" y="198" width="5" height="49" fill="#B2201A"/>
<rect x="906" y="230" width="1" height="24" fill="#509E1E"/>
<rect x="904" y="244" width="5" height="8" fill="#509E1E"/>
<rect x="914" y="227" width="1" height="21" fill="#509E1E"/>
<rect x="912" y="238" width="5" height="7" fill="#509E1E"/>
<rect x="922" y="225" width="1" height="19" fill="#509E1E"/>
<rect x="920" y="236" width="5" height="4" fill="#509E1E"/>
<rect x="930" y="221" width="1" height="33" fill="#B2201A"/>
<rect x="928" y="236" width="5" height="16" fill="#B2201A"/>
<rect x="938" y="239" width="1" height="22" fill="#509E1E"/>
<rect x="936" y="248" width="5" height="2" fill="#509E1E"/>
<rect x="946" y="245" width="1" height="17" fill="#B2201A"/>
<rect x="944" y="248" width="5" height="11" fill="#B2201A"/>
<rect x="954" y="241" width="1" height="30" fill="#509E1E"/>
<rect x="952" y="258" width="5" height="2" fill="#509E1E"/>
<rect x="962" y="252" width="1" height="32" fill="#B2201A"/>
<rect x="960" y="258" width="5" height="20" fill="#B2201A"/>
<rect x="970" y="268" width="1" height="19" fill="#509E1E"/>
<rect x="968" y="277" width="5" height="1" fill="#509E1E"/>
<rect x="978" y="269" width="1" height="27" fill="#509E1E"/>
<rect x="976" y="271" width="5" height="7" fill="#509E1E"/>
<rect x="986" y="265" width="1" height="12" fill="#509E1E"/>
<rect x="984" y="272" width="5" height="1" fill="#509E1E"/>
<rect x="994" y="269" width="1" height="15" fill="#B2201A"/>
<rect x="992" y="272" width="5" height="6" fill="#B2201A"/>
<rect x="1002" y="267" width="1" height="24" fill="#B2201A"/>
<rect x="1000" y="279" width="5" height="11" fill="#B2201A"/>
<rect x="1010" y="280" width="1" height="18" fill="#B2201A"/>
<rect x="1008" y="289" width="5" height="4" fill="#B2201A"/>
<rect x="1018" y="286" width="1" height="21" fill="#B2201A"/>
<rect x="1016" y="292" width="5" height="13" fill="#B2201A"/>
<rect x="1026" y="294" width="1" height="15" fill="#509E1E"/>
<rect x="1024" y="297" width="5" height="8" fill="#509E1E"/>
<rect x="1034" y="282" width="1" height="28" fill="#509E1E"/>
<rect x="1032" y="287" width="5" height="11" fill="#509E1E"/>
<rect x="1042" y="268" width="1" height="24" fill="#509E1E"/>
<rect x="1040" y="277" width="5" height="11" fill="#509E1E"/>
<rect x="1050" y="274" width="1" height="11" fill="#B2201A"/>
<rect x="1048" y="277" width="5" height="1" fill="#B2201A"/>
<rect x="1058" y="256" width="1" height="22" fill="#509E1E"/>
<rect x="1056" y="257" width="5" height="21" fill="#509E1E"/>
<rect x="1066" y="254" width="1" height="15" fill="#B2201A"/>
<rect x="1064" y="258" width="5" height="9" fill="#B2201A"/>
<rect x="1074" y="261" width="1" height="42" fill="#B2201A"/>
<rect x="1072" y="266" width="5" height="36" fill="#B2201A"/>
<rect x="1082" y="290" width="1" height="16" fill="#509E1E"/>
<rect x="1080" y="301" width="5" height="1" fill="#509E1E"/>
<rect x="1090" y="280" width="1" height="23" fill="#509E1E"/>
<rect x="1088" y="283" width="5" height="19" fill="#509E1E"/>
<rect x="1098" y="243" width="1" height="44" fill="#509E1E"/>
<rect x="1096" y="245" width="5" height="37" fill="#509E1E"/>
<rect x="1106" y="195" width="1" height="43" fill="#509E1E"/>
<rect x="1104" y="196" width="5" height="35" fill="#509E1E"/>
<rect x="1114" y="196" width="1" height="20" fill="#B2201A"/>
<rect x="1112" y="196" width="5" height="10" fill="#B2201A"/>
<rect x="1122" y="171" width="1" height="55" fill="#509E1E"/>
<rect x="1120" y="191" width="5" height="15" fill="#509E1E"/>
<rect x="1130" y="175" width="1" height="28" fill="#509E1E"/>
<rect x="1128" y="190" width="5" height="2" fill="#509E1E"/>
<rect x="1138" y="119" width="1" height="73" fill="#509E1E"/>
<rect x="1136" y="122" width="5" height="68" fill="#509E1E"/>
<rect x="1146" y="96" width="1" height="47" fill="#B2201A"/>
<rect x="1144" y="122" width="5" height="6" fill="#B2201A"/>
<rect x="1154" y="122" width="1" height="52" fill="#B2201A"/>
<rect x="1152" y="128" width="5" height="40" fill="#B2201A"/>
<rect x="1162" y="128" width="1" height="45" fill="#509E1E"/>
<rect x="1160" y="138" width="5" height="32" fill="#509E1E"/>
<rect x="1170" y="103" width="1" height="41" fill="#509E1E"/>
<rect x="1168" y="112" width="5" height="26" fill="#509E1E"/>
<rect x="1178" y="105" width="1" height="28" fill="#B2201A"/>
<rect x="1176" y="113" width="5" height="15" fill="#B2201A"/>
<rect x="1186" y="127" width="1" height="35" fill="#B2201A"/>
<rect x="1184" y="131" width="5" height="21" fill="#B2201A"/>
<rect x="1194" y="132" width="1" height="27" fill="#509E1E"/>
<rect x="1192" y="134" width="5" height="18" fill="#509E1E"/>
<rect x="1202" y="133" width="1" height="17" fill="#B2201A"/>
<rect x="1200" y="134" width="5" height="9" fill="#B2201A"/>
<rect x="1210" y="123" width="1" height="29" fill="#509E1E"/>
<rect x="1208" y="127" width="5" height="18" fill="#509E1E"/>
<rect x="1218" y="119" width="1" height="22" fill="#B2201A"/>
<rect x="1216" y="127" width="5" height="11" fill="#B2201A"/>
<rect x="1226" y="137" width="1" height="21" fill="#B2201A"/>
<rect x="1224" y="138" width="5" height="10" fill="#B2201A"/>
</g>
<g shape-rendering="crispEdges">
<line x1="1034" y1="96.5" x2="1601" y2="96.5" stroke="#0000FF" stroke-width="1"/>
<line x1="1034" y1="147.5" x2="1601" y2="147.5" stroke="#0000FF" stroke-width="1"/>
<line x1="1034" y1="178.5" x2="1601" y2="178.5" stroke="#0000FF" stroke-width="1"/>
<line x1="1034" y1="203.5" x2="1601" y2="203.5" stroke="#0000FF" stroke-width="1"/>
<line x1="1034" y1="242.5" x2="1601" y2="242.5" stroke="#0000FF" stroke-width="1"/>
<line x1="1034" y1="310.5" x2="1601" y2="310.5" stroke="#0000FF" stroke-width="1"/>
<line x1="1034" y1="443.5" x2="1601" y2="443.5" stroke="#0000FF" stroke-width="1"/>
</g>
<text x="1586.1" y="93" font-size="9.5" fill="#0000FF" textLength="14" lengthAdjust="spacingAndGlyphs" >0.0</text>
<text x="1548.1" y="144" font-size="9.5" fill="#0000FF" textLength="52" lengthAdjust="spacingAndGlyphs" >23.61961.26</text>
<text x="1548.1" y="175" font-size="9.5" fill="#0000FF" textLength="52" lengthAdjust="spacingAndGlyphs" >38.21931.32</text>
<text x="1548.1" y="200" font-size="9.5" fill="#0000FF" textLength="52" lengthAdjust="spacingAndGlyphs" >50.01907.13</text>
<text x="1548.1" y="239" font-size="9.5" fill="#0000FF" textLength="52" lengthAdjust="spacingAndGlyphs" >61.81869.81</text>
<text x="1577.1" y="307" font-size="9.5" fill="#0000FF" textLength="23" lengthAdjust="spacingAndGlyphs" >100.0</text>
<text x="1544.1" y="440" font-size="9.5" fill="#0000FF" textLength="56" lengthAdjust="spacingAndGlyphs" >161.81677.88</text>
<line x1="1034.5" y1="310.5" x2="1146.5" y2="96.5" stroke="#3C6EF0" stroke-width="1" shape-rendering="crispEdges"/>
<g clip-path="url(#mainclip)" shape-rendering="crispEdges" stroke-width="2" fill="none">
<line x1="2" y1="333.2" x2="467" y2="475" stroke="#000"/>
<line x1="2" y1="364.5" x2="1139" y2="454" stroke="#000"/>
<line x1="2" y1="533.7" x2="200" y2="598" stroke="#000"/>
<line x1="1138" y1="94" x2="1146" y2="96" stroke="#000"/>
<line x1="1146" y1="96" x2="1267" y2="127" stroke="#500000"/>
<line x1="1146" y1="181.5" x2="1267" y2="127" stroke="#500000"/>
</g>
<g clip-path="url(#mainclip)" shape-rendering="crispEdges">
<polyline points="2.0,276.9 10.0,276.9 26.0,278.1 42.0,279.0 66.0,279.9 90.0,280.9 102.0,281.8 114.0,282.9 130.0,283.9 146.0,284.8 158.0,285.9 170.0,286.9 186.0,288.7 202.0,289.7 218.0,291.0 230.0,291.9 238.0,292.9 250.0,293.8 262.0,294.9 270.0,295.7 282.0,296.8 294.0,297.7 303.0,298.7 314.0,300.1 330.0,302.1 346.0,304.0 362.0,305.7 374.0,307.2 386.0,308.5 398.0,309.6 418.0,310.7 446.0,311.9 466.0,313.0 482.0,313.7 498.0,314.7 514.0,316.0 530.0,318.1 554.0,319.4 578.0,321.8 594.0,323.1 605.0,324.6 618.0,326.4 634.0,328.9 650.0,330.2 666.0,331.5 682.0,333.0 694.0,333.9 706.0,334.9 722.0,335.8 742.0,336.7 786.0,337.7 842.0,338.6 874.0,339.6 894.0,338.6 903.0,338.6 986.0,339.8 1086.0,340.8 1118.0,339.8 1138.0,338.6 1154.0,337.6 1170.0,336.6 1186.0,335.2 1202.0,333.5 1218.0,331.9 1226.0,331.5" fill="none" stroke="#9400D3" stroke-width="2" stroke-linejoin="round" />
<polyline points="2.0,353.7 10.0,354.6 18.0,357.5 26.0,360.3 34.0,362.5 42.0,365.3 50.0,367.6 58.0,369.8 66.0,372.1 74.0,374.3 82.0,376.0 90.0,377.7 98.0,378.9 106.0,379.6 114.0,381.1 122.0,382.6 130.0,383.9 138.0,385.0 146.0,386.2 154.0,387.9 162.0,389.0 170.0,390.1 180.0,391.5 200.0,394.5 220.0,394.9 240.0,398.5 260.0,403.3 280.0,409.9 300.0,417.7 320.0,425.3 340.0,431.9 360.0,437.4 380.0,442.9 390.0,445.8 394.0,446.1 402.0,447.4 410.0,447.7 418.0,447.8 426.0,446.6 434.0,445.3 442.0,444.0 450.0,442.4 458.0,441.3 466.0,440.2 474.0,439.5 482.0,439.2 490.0,438.4 498.0,437.3 506.0,435.4 514.0,433.7 522.0,432.4 530.0,430.6 538.0,428.6 546.0,425.8 554.0,422.6 562.0,419.5 570.0,416.6 578.0,413.9 586.0,411.3 594.0,408.4 602.0,406.7 610.0,405.0 618.0,403.1 626.0,401.7 634.0,399.6 642.0,397.1 650.0,394.0 658.0,391.0 666.0,388.4 674.0,385.1 682.0,381.7 690.0,378.6 698.0,374.6 706.0,370.5 714.0,366.7 722.0,362.4 730.0,358.7 738.0,354.5 746.0,350.1 754.0,345.3 762.0,340.2 770.0,335.0 778.0,329.0 786.0,323.1 794.0,318.3 802.0,313.5 810.0,308.9 818.0,304.4 826.0,300.7 834.0,297.2 842.0,293.5 850.0,290.4 858.0,287.2 866.0,283.8 874.0,280.0 882.0,275.6 890.0,272.0 898.0,269.6 906.0,267.2 914.0,264.8 922.0,261.9 930.0,259.6 938.0,257.6 946.0,256.5 954.0,255.3 962.0,253.9 970.0,252.6 978.0,251.4 986.0,250.3 994.0,249.5 1002.0,248.6 1010.0,248.3 1018.0,248.3 1026.0,247.4 1034.0,246.7 1042.0,245.7 1050.0,245.3 1058.0,244.5 1066.0,243.3 1074.0,243.0 1082.0,243.0 1090.0,242.4 1098.0,241.4 1106.0,239.5 1114.0,238.1 1122.0,236.8 1130.0,234.9 1138.0,232.5 1146.0,230.2 1154.0,228.9 1162.0,226.9 1170.0,224.9 1178.0,223.7 1186.0,222.8 1194.0,221.4 1202.0,220.2 1210.0,219.2 1218.0,218.2 1226.0,217.6" fill="none" stroke="#FFA500" stroke-width="2" stroke-linejoin="round" />
<polyline points="2.0,349.9 10.0,350.7 18.0,353.0 22.0,355.8 30.0,360.8 38.0,363.1 46.0,367.6 54.0,372.7 62.0,376.6 70.0,380.0 78.0,383.4 86.0,386.2 94.0,389.5 102.0,394.6 110.0,399.1 118.0,403.1 126.0,406.4 134.0,410.4 142.0,414.9 150.0,420.0 154.0,423.6 162.0,429.7 170.0,434.7 178.0,437.3 186.0,439.2 194.0,441.9 202.0,442.4 210.0,441.1 218.0,441.2 226.0,441.0 234.0,442.2 242.0,445.2 250.0,447.1 258.0,448.4 266.0,448.3 274.0,449.9 282.0,451.2 290.0,451.8 298.0,454.2 306.0,456.5 314.0,455.7 322.0,454.3 330.0,453.0 338.0,452.8 346.0,452.6 354.0,453.5 362.0,457.0 370.0,461.1 378.0,465.4 386.0,469.7 394.0,470.4 402.0,469.9 410.0,467.5 418.0,465.7 426.0,461.1 434.0,454.4 442.0,448.1 450.0,441.4 458.0,433.8 466.0,426.9 474.0,422.1 482.0,417.5 490.0,413.0 498.0,408.6 506.0,403.7 514.0,397.9 522.0,392.3 530.0,387.0 538.0,380.0 546.0,370.9 554.0,364.8 562.0,360.0 570.0,356.9 578.0,352.7 586.0,351.0 594.0,349.6 602.0,349.1 610.0,347.5 618.0,345.7 626.0,344.8 634.0,342.5 642.0,340.0 650.0,335.9 658.0,332.5 666.0,330.6 674.0,328.4 682.0,324.6 690.0,321.8 698.0,319.4 706.0,318.3 714.0,316.1 722.0,311.5 730.0,308.4 738.0,304.2 746.0,299.8 754.0,295.7 762.0,290.7 770.0,286.3 778.0,280.3 786.0,273.1 794.0,267.1 802.0,261.0 810.0,255.0 818.0,249.2 826.0,241.9 834.0,234.6 842.0,227.6 850.0,221.1 858.0,215.2 866.0,210.0 874.0,205.4 882.0,200.4 890.0,196.2 898.0,196.3 906.0,196.5 914.0,196.6 922.0,196.6 930.0,198.5 938.0,201.4 946.0,204.6 954.0,207.4 962.0,210.9 970.0,215.9 978.0,220.3 986.0,224.9 994.0,230.3 1002.0,236.7 1010.0,242.3 1018.0,248.5 1026.0,254.0 1034.0,259.3 1042.0,265.2 1050.0,269.2 1058.0,269.7 1066.0,270.9 1074.0,274.0 1082.0,277.3 1090.0,278.9 1098.0,278.7 1106.0,275.6 1114.0,273.0 1122.0,268.7 1130.0,264.3 1138.0,256.9 1146.0,249.7 1154.0,244.2 1162.0,236.6 1170.0,227.6 1178.0,218.8 1186.0,211.5 1194.0,203.9 1202.0,197.2 1210.0,189.6 1218.0,183.6 1226.0,177.7" fill="none" stroke="#008080" stroke-width="2" stroke-linejoin="round" />
</g>
<rect x="2.5" y="2.5" width="1599" height="596" fill="none" stroke="#000" stroke-width="1" shape-rendering="crispEdges"/>
<line x1="1601.5" y1="2" x2="1601.5" y2="867" stroke="#000" stroke-width="1" shape-rendering="crispEdges"/>
<line x1="1601" y1="22.5" x2="1606" y2="22.5" stroke="#000" stroke-width="1" shape-rendering="crispEdges"/>
<text x="1606.3" y="26" font-size="9.5" fill="#000" textLength="33.2" lengthAdjust="spacingAndGlyphs" >2080.19</text>
<line x1="1601" y1="54.5" x2="1606" y2="54.5" stroke="#000" stroke-width="1" shape-rendering="crispEdges"/>
<text x="1606.3" y="58" font-size="9.5" fill="#000" textLength="33.2" lengthAdjust="spacingAndGlyphs" >2049.58</text>
<line x1="1601" y1="86.5" x2="1606" y2="86.5" stroke="#000" stroke-width="1" shape-rendering="crispEdges"/>
<text x="1606.3" y="90" font-size="9.5" fill="#000" textLength="33.2" lengthAdjust="spacingAndGlyphs" >2018.97</text>
<line x1="1601" y1="118.5" x2="1606" y2="118.5" stroke="#000" stroke-width="1" shape-rendering="crispEdges"/>
<text x="1606.3" y="122" font-size="9.5" fill="#000" textLength="33.2" lengthAdjust="spacingAndGlyphs" >1988.36</text>
<line x1="1601" y1="150.5" x2="1606" y2="150.5" stroke="#000" stroke-width="1" shape-rendering="crispEdges"/>
<text x="1606.3" y="154" font-size="9.5" fill="#000" textLength="33.2" lengthAdjust="spacingAndGlyphs" >1957.75</text>
<line x1="1601" y1="182.5" x2="1606" y2="182.5" stroke="#000" stroke-width="1" shape-rendering="crispEdges"/>
<text x="1606.3" y="186" font-size="9.5" fill="#000" textLength="33.2" lengthAdjust="spacingAndGlyphs" >1927.14</text>
<line x1="1601" y1="214.5" x2="1606" y2="214.5" stroke="#000" stroke-width="1" shape-rendering="crispEdges"/>
<text x="1606.3" y="218" font-size="9.5" fill="#000" textLength="33.2" lengthAdjust="spacingAndGlyphs" >1896.53</text>
<line x1="1601" y1="246.5" x2="1606" y2="246.5" stroke="#000" stroke-width="1" shape-rendering="crispEdges"/>
<text x="1606.3" y="250" font-size="9.5" fill="#000" textLength="33.2" lengthAdjust="spacingAndGlyphs" >1865.92</text>
<line x1="1601" y1="278.5" x2="1606" y2="278.5" stroke="#000" stroke-width="1" shape-rendering="crispEdges"/>
<text x="1606.3" y="282" font-size="9.5" fill="#000" textLength="33.2" lengthAdjust="spacingAndGlyphs" >1835.31</text>
<line x1="1601" y1="310.5" x2="1606" y2="310.5" stroke="#000" stroke-width="1" shape-rendering="crispEdges"/>
<text x="1606.3" y="314" font-size="9.5" fill="#000" textLength="33.2" lengthAdjust="spacingAndGlyphs" >1804.70</text>
<line x1="1601" y1="342.5" x2="1606" y2="342.5" stroke="#000" stroke-width="1" shape-rendering="crispEdges"/>
<text x="1606.3" y="346" font-size="9.5" fill="#000" textLength="33.2" lengthAdjust="spacingAndGlyphs" >1774.09</text>
<line x1="1601" y1="374.5" x2="1606" y2="374.5" stroke="#000" stroke-width="1" shape-rendering="crispEdges"/>
<text x="1606.3" y="378" font-size="9.5" fill="#000" textLength="33.2" lengthAdjust="spacingAndGlyphs" >1743.48</text>
<line x1="1601" y1="406.5" x2="1606" y2="406.5" stroke="#000" stroke-width="1" shape-rendering="crispEdges"/>
<text x="1606.3" y="410" font-size="9.5" fill="#000" textLength="33.2" lengthAdjust="spacingAndGlyphs" >1712.87</text>
<line x1="1601" y1="438.5" x2="1606" y2="438.5" stroke="#000" stroke-width="1" shape-rendering="crispEdges"/>
<text x="1606.3" y="442" font-size="9.5" fill="#000" textLength="33.2" lengthAdjust="spacingAndGlyphs" >1682.26</text>
<line x1="1601" y1="470.5" x2="1606" y2="470.5" stroke="#000" stroke-width="1" shape-rendering="crispEdges"/>
<text x="1606.3" y="474" font-size="9.5" fill="#000" textLength="33.2" lengthAdjust="spacingAndGlyphs" >1651.65</text>
<line x1="1601" y1="501.5" x2="1606" y2="501.5" stroke="#000" stroke-width="1" shape-rendering="crispEdges"/>
<text x="1606.3" y="505" font-size="9.5" fill="#000" textLength="33.2" lengthAdjust="spacingAndGlyphs" >1621.04</text>
<line x1="1601" y1="533.5" x2="1606" y2="533.5" stroke="#000" stroke-width="1" shape-rendering="crispEdges"/>
<text x="1606.3" y="537" font-size="9.5" fill="#000" textLength="33.2" lengthAdjust="spacingAndGlyphs" >1590.43</text>
<line x1="1601" y1="565.5" x2="1606" y2="565.5" stroke="#000" stroke-width="1" shape-rendering="crispEdges"/>
<text x="1606.3" y="569" font-size="9.5" fill="#000" textLength="33.2" lengthAdjust="spacingAndGlyphs" >1559.82</text>
<rect x="1604" y="28" width="39" height="11" fill="#000" shape-rendering="crispEdges"/>
<text x="1606.3" y="37" font-size="9.5" fill="#fff" textLength="33.2" lengthAdjust="spacingAndGlyphs" >2070.00</text>
<rect x="1604" y="100" width="39" height="11" fill="#000" shape-rendering="crispEdges"/>
<text x="1606.3" y="109" font-size="9.5" fill="#fff" textLength="33.2" lengthAdjust="spacingAndGlyphs" >2000.97</text>
<rect x="1604" y="117" width="39" height="11" fill="#000" shape-rendering="crispEdges"/>
<text x="1606.3" y="126" font-size="9.5" fill="#fff" textLength="33.2" lengthAdjust="spacingAndGlyphs" >1984.32</text>
<rect x="1604" y="143" width="39" height="11" fill="#778899" shape-rendering="crispEdges"/>
<text x="1606.3" y="152" font-size="9.5" fill="#fff" textLength="33.2" lengthAdjust="spacingAndGlyphs" >1959.36</text>
<rect x="1604" y="153" width="39" height="11" fill="#000" shape-rendering="crispEdges"/>
<text x="1606.3" y="162" font-size="9.5" fill="#fff" textLength="33.2" lengthAdjust="spacingAndGlyphs" >1950.00</text>
<rect x="1604" y="212" width="39" height="11" fill="#000" shape-rendering="crispEdges"/>
<text x="1606.3" y="221" font-size="9.5" fill="#fff" textLength="33.2" lengthAdjust="spacingAndGlyphs" >1893.26</text>
<rect x="1604" y="291" width="39" height="11" fill="#000" shape-rendering="crispEdges"/>
<text x="1606.3" y="300" font-size="9.5" fill="#fff" textLength="33.2" lengthAdjust="spacingAndGlyphs" >1818.08</text>
<rect x="2.5" y="600.5" width="1599" height="110" fill="none" stroke="#000" stroke-width="1" shape-rendering="crispEdges"/>
<text x="1162.0" y="684" font-size="19.3" fill="#000" textLength="324.6" lengthAdjust="spacingAndGlyphs" >RSI turns lower, above 50 neutral mark</text>
<line x1="2" y1="633.5" x2="1601" y2="633.5" stroke="#C0C0C0" stroke-width="1" stroke-dasharray="3 3" shape-rendering="crispEdges"/>
<line x1="2" y1="655.5" x2="1601" y2="655.5" stroke="#C0C0C0" stroke-width="1" stroke-dasharray="3 3" shape-rendering="crispEdges"/>
<line x1="2" y1="677.5" x2="1601" y2="677.5" stroke="#C0C0C0" stroke-width="1" stroke-dasharray="3 3" shape-rendering="crispEdges"/>
<text x="5.5" y="613" font-size="9.5" fill="#000" textLength="58.5" lengthAdjust="spacingAndGlyphs" >RSI(14) 57.45</text>
<g clip-path="url(#rsiclip)" shape-rendering="crispEdges">
<polyline points="2.0,665.2 10.0,669.9 18.0,673.8 26.0,677.2 34.0,669.3 42.0,669.9 50.0,672.7 58.0,663.8 66.0,667.3 74.0,663.1 82.0,659.7 90.0,667.1 98.0,668.4 106.0,676.6 114.0,671.6 122.0,671.1 130.0,673.9 138.0,669.5 146.0,670.5 154.0,677.0 162.0,681.1 170.0,677.5 178.0,664.7 186.0,664.7 194.0,664.3 202.0,651.6 210.0,644.9 218.0,648.5 226.0,649.8 234.0,655.1 242.0,662.3 250.0,662.7 258.0,660.5 266.0,662.3 274.0,667.9 282.0,665.2 290.0,664.9 298.0,670.9 306.0,671.0 314.0,659.6 322.0,661.9 330.0,660.6 338.0,656.3 346.0,657.1 354.0,662.9 362.0,666.1 370.0,660.3 378.0,664.2 386.0,665.7 394.0,649.4 402.0,650.9 410.0,642.5 418.0,644.3 426.0,635.5 434.0,633.1 442.0,633.2 450.0,632.0 458.0,634.1 466.0,639.4 474.0,642.7 482.0,646.9 490.0,646.4 498.0,643.9 506.0,642.5 514.0,642.4 522.0,648.3 530.0,645.8 538.0,640.7 546.0,633.5 554.0,635.8 562.0,646.8 570.0,645.9 578.0,642.5 586.0,641.8 594.0,639.8 602.0,646.3 610.0,639.3 618.0,640.6 626.0,651.1 634.0,646.9 642.0,649.1 650.0,642.1 658.0,643.3 666.0,650.3 674.0,648.7 682.0,645.1 690.0,648.5 698.0,645.5 706.0,643.5 714.0,640.1 722.0,637.0 730.0,644.9 738.0,638.2 746.0,637.1 754.0,636.3 762.0,636.9 770.0,632.9 778.0,629.0 786.0,631.3 794.0,634.5 802.0,636.1 810.0,630.9 818.0,633.7 826.0,632.7 834.0,631.4 842.0,629.9 850.0,638.1 858.0,638.1 866.0,640.6 874.0,639.2 882.0,634.0 890.0,649.5 898.0,662.0 906.0,661.3 914.0,659.6 922.0,659.0 930.0,662.9 938.0,661.6 946.0,664.7 954.0,664.2 962.0,669.2 970.0,668.9 978.0,666.5 986.0,666.7 994.0,668.7 1002.0,671.8 1010.0,672.6 1018.0,675.8 1026.0,671.6 1034.0,666.6 1042.0,661.9 1050.0,662.4 1058.0,653.2 1066.0,657.0 1074.0,668.2 1082.0,667.8 1090.0,660.4 1098.0,648.3 1106.0,637.8 1114.0,641.3 1122.0,638.4 1130.0,638.2 1138.0,628.2 1146.0,630.4 1154.0,642.3 1162.0,637.7 1170.0,634.3 1178.0,638.7 1186.0,644.6 1194.0,641.8 1202.0,644.1 1210.0,641.5 1218.0,644.4 1226.0,647.0" fill="none" stroke="#1E90FF" stroke-width="1" stroke-linejoin="round" />
</g>
<text x="1606.5" y="609.0" font-size="9.5" fill="#000" textLength="26.5" lengthAdjust="spacingAndGlyphs" >100.00</text>
<line x1="1601" y1="633.5" x2="1605" y2="633.5" stroke="#000" stroke-width="1" shape-rendering="crispEdges"/>
<text x="1606.5" y="637.0" font-size="9.5" fill="#000" textLength="21" lengthAdjust="spacingAndGlyphs" >70.00</text>
<line x1="1601" y1="655.5" x2="1605" y2="655.5" stroke="#000" stroke-width="1" shape-rendering="crispEdges"/>
<text x="1606.5" y="659.0" font-size="9.5" fill="#000" textLength="21" lengthAdjust="spacingAndGlyphs" >50.00</text>
<line x1="1601" y1="677.5" x2="1605" y2="677.5" stroke="#000" stroke-width="1" shape-rendering="crispEdges"/>
<text x="1606.5" y="681.0" font-size="9.5" fill="#000" textLength="21" lengthAdjust="spacingAndGlyphs" >30.00</text>
<text x="1606.5" y="708.2" font-size="9.5" fill="#000" textLength="16.5" lengthAdjust="spacingAndGlyphs" >0.00</text>
<line x1="1601" y1="601.5" x2="1605" y2="601.5" stroke="#000" stroke-width="1" shape-rendering="crispEdges"/>
<line x1="1601" y1="709.5" x2="1605" y2="709.5" stroke="#000" stroke-width="1" shape-rendering="crispEdges"/>
<rect x="2.5" y="712.5" width="1599" height="64" fill="none" stroke="#000" stroke-width="1" shape-rendering="crispEdges"/>
<text x="1226.0" y="774" font-size="19.3" fill="#FF0000" textLength="242.2" lengthAdjust="spacingAndGlyphs" >MACD slips below signal line</text>
<g clip-path="url(#macdclip)" shape-rendering="crispEdges">
<line x1="2" y1="748.5" x2="1601" y2="748.5" stroke="#C0C0C0" stroke-width="1" stroke-dasharray="3 3"/>
<rect x="2" y="748" width="1" height="6" fill="#C0C0C0"/>
<rect x="10" y="748" width="1" height="8" fill="#C0C0C0"/>
<rect x="18" y="748" width="1" height="10" fill="#C0C0C0"/>
<rect x="26" y="748" width="1" height="12" fill="#C0C0C0"/>
<rect x="34" y="748" width="1" height="13" fill="#C0C0C0"/>
<rect x="42" y="748" width="1" height="13" fill="#C0C0C0"/>
<rect x="50" y="748" width="1" height="14" fill="#C0C0C0"/>
<rect x="58" y="748" width="1" height="14" fill="#C0C0C0"/>
<rect x="66" y="748" width="1" height="14" fill="#C0C0C0"/>
<rect x="74" y="748" width="1" height="13" fill="#C0C0C0"/>
<rect x="82" y="748" width="1" height="12" fill="#C0C0C0"/>
<rect x="90" y="748" width="1" height="12" fill="#C0C0C0"/>
<rect x="98" y="748" width="1" height="13" fill="#C0C0C0"/>
<rect x="106" y="748" width="1" height="15" fill="#C0C0C0"/>
<rect x="114" y="748" width="1" height="16" fill="#C0C0C0"/>
<rect x="122" y="748" width="1" height="17" fill="#C0C0C0"/>
<rect x="130" y="748" width="1" height="18" fill="#C0C0C0"/>
<rect x="138" y="748" width="1" height="18" fill="#C0C0C0"/>
<rect x="146" y="748" width="1" height="18" fill="#C0C0C0"/>
<rect x="154" y="748" width="1" height="20" fill="#C0C0C0"/>
<rect x="162" y="748" width="1" height="22" fill="#C0C0C0"/>
<rect x="170" y="748" width="1" height="23" fill="#C0C0C0"/>
<rect x="178" y="748" width="1" height="22" fill="#C0C0C0"/>
<rect x="186" y="748" width="1" height="21" fill="#C0C0C0"/>
<rect x="194" y="748" width="1" height="19" fill="#C0C0C0"/>
<rect x="202" y="748" width="1" height="16" fill="#C0C0C0"/>
<rect x="210" y="748" width="1" height="11" fill="#C0C0C0"/>
<rect x="218" y="748" width="1" height="8" fill="#C0C0C0"/>
<rect x="226" y="748" width="1" height="5" fill="#C0C0C0"/>
<rect x="234" y="748" width="1" height="5" fill="#C0C0C0"/>
<rect x="242" y="748" width="1" height="6" fill="#C0C0C0"/>
<rect x="250" y="748" width="1" height="7" fill="#C0C0C0"/>
<rect x="258" y="748" width="1" height="7" fill="#C0C0C0"/>
<rect x="266" y="748" width="1" height="8" fill="#C0C0C0"/>
<rect x="274" y="748" width="1" height="9" fill="#C0C0C0"/>
<rect x="282" y="748" width="1" height="10" fill="#C0C0C0"/>
<rect x="290" y="748" width="1" height="11" fill="#C0C0C0"/>
<rect x="298" y="748" width="1" height="12" fill="#C0C0C0"/>
<rect x="306" y="748" width="1" height="14" fill="#C0C0C0"/>
<rect x="314" y="748" width="1" height="13" fill="#C0C0C0"/>
<rect x="322" y="748" width="1" height="12" fill="#C0C0C0"/>
<rect x="330" y="748" width="1" height="12" fill="#C0C0C0"/>
<rect x="338" y="748" width="1" height="10" fill="#C0C0C0"/>
<rect x="346" y="748" width="1" height="9" fill="#C0C0C0"/>
<rect x="354" y="748" width="1" height="9" fill="#C0C0C0"/>
<rect x="362" y="748" width="1" height="10" fill="#C0C0C0"/>
<rect x="370" y="748" width="1" height="10" fill="#C0C0C0"/>
<rect x="378" y="748" width="1" height="10" fill="#C0C0C0"/>
<rect x="386" y="748" width="1" height="11" fill="#C0C0C0"/>
<rect x="394" y="748" width="1" height="8" fill="#C0C0C0"/>
<rect x="402" y="748" width="1" height="6" fill="#C0C0C0"/>
<rect x="410" y="748" width="1" height="2" fill="#C0C0C0"/>
<rect x="418" y="746" width="1" height="3" fill="#C0C0C0"/>
<rect x="426" y="741" width="1" height="8" fill="#C0C0C0"/>
<rect x="434" y="736" width="1" height="13" fill="#C0C0C0"/>
<rect x="442" y="732" width="1" height="17" fill="#C0C0C0"/>
<rect x="450" y="728" width="1" height="21" fill="#C0C0C0"/>
<rect x="458" y="726" width="1" height="23" fill="#C0C0C0"/>
<rect x="466" y="726" width="1" height="23" fill="#C0C0C0"/>
<rect x="474" y="726" width="1" height="23" fill="#C0C0C0"/>
<rect x="482" y="728" width="1" height="21" fill="#C0C0C0"/>
<rect x="490" y="729" width="1" height="20" fill="#C0C0C0"/>
<rect x="498" y="730" width="1" height="19" fill="#C0C0C0"/>
<rect x="506" y="730" width="1" height="19" fill="#C0C0C0"/>
<rect x="514" y="730" width="1" height="19" fill="#C0C0C0"/>
<rect x="522" y="732" width="1" height="17" fill="#C0C0C0"/>
<rect x="530" y="733" width="1" height="16" fill="#C0C0C0"/>
<rect x="538" y="732" width="1" height="17" fill="#C0C0C0"/>
<rect x="546" y="730" width="1" height="19" fill="#C0C0C0"/>
<rect x="554" y="729" width="1" height="20" fill="#C0C0C0"/>
<rect x="562" y="730" width="1" height="19" fill="#C0C0C0"/>
<rect x="570" y="731" width="1" height="18" fill="#C0C0C0"/>
<rect x="578" y="730" width="1" height="19" fill="#C0C0C0"/>
<rect x="586" y="730" width="1" height="19" fill="#C0C0C0"/>
<rect x="594" y="730" width="1" height="19" fill="#C0C0C0"/>
<rect x="602" y="731" width="1" height="18" fill="#C0C0C0"/>
<rect x="610" y="730" width="1" height="19" fill="#C0C0C0"/>
<rect x="618" y="730" width="1" height="19" fill="#C0C0C0"/>
<rect x="626" y="732" width="1" height="17" fill="#C0C0C0"/>
<rect x="634" y="732" width="1" height="17" fill="#C0C0C0"/>
<rect x="642" y="733" width="1" height="16" fill="#C0C0C0"/>
<rect x="650" y="732" width="1" height="17" fill="#C0C0C0"/>
<rect x="658" y="732" width="1" height="17" fill="#C0C0C0"/>
<rect x="666" y="733" width="1" height="16" fill="#C0C0C0"/>
<rect x="674" y="734" width="1" height="15" fill="#C0C0C0"/>
<rect x="682" y="734" width="1" height="15" fill="#C0C0C0"/>
<rect x="690" y="735" width="1" height="14" fill="#C0C0C0"/>
<rect x="698" y="735" width="1" height="14" fill="#C0C0C0"/>
<rect x="706" y="734" width="1" height="15" fill="#C0C0C0"/>
<rect x="714" y="733" width="1" height="16" fill="#C0C0C0"/>
<rect x="722" y="731" width="1" height="18" fill="#C0C0C0"/>
<rect x="730" y="731" width="1" height="18" fill="#C0C0C0"/>
<rect x="738" y="730" width="1" height="19" fill="#C0C0C0"/>
<rect x="746" y="728" width="1" height="21" fill="#C0C0C0"/>
<rect x="754" y="727" width="1" height="22" fill="#C0C0C0"/>
<rect x="762" y="726" width="1" height="23" fill="#C0C0C0"/>
<rect x="770" y="725" width="1" height="24" fill="#C0C0C0"/>
<rect x="778" y="722" width="1" height="27" fill="#C0C0C0"/>
<rect x="786" y="721" width="1" height="28" fill="#C0C0C0"/>
<rect x="794" y="720" width="1" height="29" fill="#C0C0C0"/>
<rect x="802" y="721" width="1" height="28" fill="#C0C0C0"/>
<rect x="810" y="719" width="1" height="30" fill="#C0C0C0"/>
<rect x="818" y="719" width="1" height="30" fill="#C0C0C0"/>
<rect x="826" y="719" width="1" height="30" fill="#C0C0C0"/>
<rect x="834" y="719" width="1" height="30" fill="#C0C0C0"/>
<rect x="842" y="718" width="1" height="31" fill="#C0C0C0"/>
<rect x="850" y="719" width="1" height="30" fill="#C0C0C0"/>
<rect x="858" y="721" width="1" height="28" fill="#C0C0C0"/>
<rect x="866" y="722" width="1" height="27" fill="#C0C0C0"/>
<rect x="874" y="724" width="1" height="25" fill="#C0C0C0"/>
<rect x="882" y="723" width="1" height="26" fill="#C0C0C0"/>
<rect x="890" y="726" width="1" height="23" fill="#C0C0C0"/>
<rect x="898" y="731" width="1" height="18" fill="#C0C0C0"/>
<rect x="906" y="736" width="1" height="13" fill="#C0C0C0"/>
<rect x="914" y="739" width="1" height="10" fill="#C0C0C0"/>
<rect x="922" y="741" width="1" height="8" fill="#C0C0C0"/>
<rect x="930" y="744" width="1" height="5" fill="#C0C0C0"/>
<rect x="938" y="746" width="1" height="3" fill="#C0C0C0"/>
<rect x="946" y="748" width="1" height="1" fill="#C0C0C0"/>
<rect x="954" y="748" width="1" height="3" fill="#C0C0C0"/>
<rect x="962" y="748" width="1" height="6" fill="#C0C0C0"/>
<rect x="970" y="748" width="1" height="8" fill="#C0C0C0"/>
<rect x="978" y="748" width="1" height="9" fill="#C0C0C0"/>
<rect x="986" y="748" width="1" height="10" fill="#C0C0C0"/>
<rect x="994" y="748" width="1" height="11" fill="#C0C0C0"/>
<rect x="1002" y="748" width="1" height="12" fill="#C0C0C0"/>
<rect x="1010" y="748" width="1" height="13" fill="#C0C0C0"/>
<rect x="1018" y="748" width="1" height="14" fill="#C0C0C0"/>
<rect x="1026" y="748" width="1" height="15" fill="#C0C0C0"/>
<rect x="1034" y="748" width="1" height="15" fill="#C0C0C0"/>
<rect x="1042" y="748" width="1" height="14" fill="#C0C0C0"/>
<rect x="1050" y="748" width="1" height="13" fill="#C0C0C0"/>
<rect x="1058" y="748" width="1" height="11" fill="#C0C0C0"/>
<rect x="1066" y="748" width="1" height="9" fill="#C0C0C0"/>
<rect x="1074" y="748" width="1" height="11" fill="#C0C0C0"/>
<rect x="1082" y="748" width="1" height="11" fill="#C0C0C0"/>
<rect x="1090" y="748" width="1" height="11" fill="#C0C0C0"/>
<rect x="1098" y="748" width="1" height="8" fill="#C0C0C0"/>
<rect x="1106" y="748" width="1" height="2" fill="#C0C0C0"/>
<rect x="1114" y="746" width="1" height="3" fill="#C0C0C0"/>
<rect x="1122" y="742" width="1" height="7" fill="#C0C0C0"/>
<rect x="1130" y="739" width="1" height="10" fill="#C0C0C0"/>
<rect x="1138" y="733" width="1" height="16" fill="#C0C0C0"/>
<rect x="1146" y="728" width="1" height="21" fill="#C0C0C0"/>
<rect x="1154" y="727" width="1" height="22" fill="#C0C0C0"/>
<rect x="1162" y="725" width="1" height="24" fill="#C0C0C0"/>
<rect x="1170" y="722" width="1" height="27" fill="#C0C0C0"/>
<rect x="1178" y="721" width="1" height="28" fill="#C0C0C0"/>
<rect x="1186" y="722" width="1" height="27" fill="#C0C0C0"/>
<rect x="1194" y="722" width="1" height="27" fill="#C0C0C0"/>
<rect x="1202" y="723" width="1" height="26" fill="#C0C0C0"/>
<rect x="1210" y="722" width="1" height="27" fill="#C0C0C0"/>
<rect x="1218" y="723" width="1" height="26" fill="#C0C0C0"/>
<rect x="1226" y="725" width="1" height="24" fill="#C0C0C0"/>
</g>
<g clip-path="url(#macdclip)" shape-rendering="crispEdges">
<polyline points="2.0,749.4 10.0,750.6 18.0,751.8 26.0,753.1 34.0,754.2 42.0,755.3 50.0,756.4 58.0,757.5 66.0,758.4 74.0,759.2 82.0,759.7 90.0,760.0 98.0,760.1 106.0,760.4 114.0,760.8 122.0,761.1 130.0,761.6 138.0,762.0 146.0,762.6 154.0,763.4 162.0,764.5 170.0,765.6 178.0,766.4 186.0,766.8 194.0,767.1 202.0,766.8 210.0,766.0 218.0,764.8 226.0,763.3 234.0,761.3 242.0,759.4 250.0,757.7 258.0,756.2 266.0,754.9 274.0,754.2 282.0,754.1 290.0,754.5 298.0,755.3 306.0,756.3 314.0,757.1 322.0,757.7 330.0,758.2 338.0,758.5 346.0,758.5 354.0,758.4 362.0,758.4 370.0,758.1 378.0,757.7 386.0,757.5 394.0,757.0 402.0,756.3 410.0,755.4 418.0,754.3 426.0,752.5 434.0,750.1 442.0,747.3 450.0,744.1 458.0,740.6 466.0,737.4 474.0,734.4 482.0,732.1 490.0,730.3 498.0,729.0 506.0,728.4 514.0,728.3 522.0,728.7 530.0,729.4 538.0,730.1 546.0,730.4 554.0,730.5 562.0,730.5 570.0,730.6 578.0,730.7 586.0,730.7 594.0,730.5 602.0,730.3 610.0,730.1 618.0,730.1 626.0,730.4 634.0,730.7 642.0,731.0 650.0,731.3 658.0,731.5 666.0,731.8 674.0,732.2 682.0,732.6 690.0,733.2 698.0,733.5 706.0,733.7 714.0,733.7 722.0,733.5 730.0,733.5 738.0,733.0 746.0,732.4 754.0,731.6 762.0,730.6 770.0,729.5 778.0,728.1 786.0,726.7 794.0,725.5 802.0,724.3 810.0,723.2 818.0,722.2 826.0,721.3 834.0,720.5 842.0,719.8 850.0,719.5 858.0,719.5 866.0,719.8 874.0,720.1 882.0,720.5 890.0,721.3 898.0,722.7 906.0,724.6 914.0,726.8 922.0,729.2 930.0,731.8 938.0,734.4 946.0,737.2 954.0,740.2 962.0,743.1 970.0,745.7 978.0,747.9 986.0,749.9 994.0,751.8 1002.0,753.4 1010.0,755.0 1018.0,756.4 1026.0,757.7 1034.0,758.7 1042.0,759.4 1050.0,759.8 1058.0,759.9 1066.0,759.8 1074.0,759.6 1082.0,759.4 1090.0,759.0 1098.0,758.2 1106.0,756.8 1114.0,755.2 1122.0,753.2 1130.0,751.1 1138.0,748.5 1146.0,745.2 1154.0,741.8 1162.0,738.2 1170.0,734.6 1178.0,731.4 1186.0,728.8 1194.0,726.6 1202.0,724.7 1210.0,723.6 1218.0,723.1 1226.0,722.8" fill="none" stroke="#FF0000" stroke-width="1" stroke-linejoin="round" stroke-dasharray="3 3"/>
</g>
<text x="5.5" y="724.7" font-size="9.5" fill="#000" textLength="129.5" lengthAdjust="spacingAndGlyphs" >MACD(12,26,9) 28.836 31.534</text>
<line x1="1601" y1="713.5" x2="1605" y2="713.5" stroke="#000" stroke-width="1" shape-rendering="crispEdges"/>
<line x1="1601" y1="748.5" x2="1605" y2="748.5" stroke="#000" stroke-width="1" shape-rendering="crispEdges"/>
<line x1="1601" y1="775.5" x2="1605" y2="775.5" stroke="#000" stroke-width="1" shape-rendering="crispEdges"/>
<text x="1606.5" y="721.5" font-size="9.5" fill="#000" textLength="26.5" lengthAdjust="spacingAndGlyphs" >43.704</text>
<text x="1606.5" y="752" font-size="9.5" fill="#000" textLength="21.5" lengthAdjust="spacingAndGlyphs" >0.000</text>
<text x="1606.5" y="774" font-size="9.5" fill="#000" textLength="30.5" lengthAdjust="spacingAndGlyphs" >-33.799</text>
<rect x="2.5" y="778.5" width="1599" height="89" fill="none" stroke="#000" stroke-width="1" shape-rendering="crispEdges"/>
<text x="1233.4" y="855" font-size="19.3" fill="#FF0000" textLength="197.4" lengthAdjust="spacingAndGlyphs" >Stochastics trend lower</text>
<line x1="2" y1="796.5" x2="1601" y2="796.5" stroke="#C0C0C0" stroke-width="1" stroke-dasharray="3 3" shape-rendering="crispEdges"/>
<line x1="2" y1="849.5" x2="1601" y2="849.5" stroke="#C0C0C0" stroke-width="1" stroke-dasharray="3 3" shape-rendering="crispEdges"/>
<g clip-path="url(#stclip)" shape-rendering="crispEdges">
<polyline points="2.0,825.4 10.0,844.9 18.0,851.5 26.0,860.3 34.0,851.5 42.0,841.3 50.0,831.2 58.0,822.7 66.0,820.7 74.0,810.2 82.0,810.5 90.0,817.4 98.0,833.8 106.0,856.8 114.0,854.2 122.0,849.2 130.0,844.2 138.0,840.0 146.0,834.8 154.0,838.4 162.0,854.1 170.0,860.5 178.0,843.3 186.0,822.5 194.0,803.5 202.0,791.9 210.0,785.1 218.0,784.3 226.0,789.8 234.0,804.3 242.0,828.3 250.0,848.6 258.0,859.0 266.0,849.5 274.0,849.3 282.0,847.4 290.0,850.8 298.0,852.3 306.0,856.0 314.0,840.2 322.0,821.8 330.0,806.6 338.0,805.0 346.0,799.4 354.0,808.8 362.0,832.7 370.0,848.9 378.0,850.8 386.0,844.7 394.0,821.7 402.0,801.7 410.0,783.4 418.0,787.7 426.0,784.8 434.0,783.7 442.0,780.5 450.0,782.4 458.0,786.6 466.0,799.2 474.0,820.5 482.0,853.1 490.0,857.1 498.0,845.7 506.0,829.1 514.0,808.4 522.0,808.9 530.0,811.2 538.0,809.8 546.0,789.6 554.0,784.1 562.0,801.1 570.0,817.5 578.0,830.1 586.0,826.7 594.0,817.5 602.0,820.0 610.0,812.0 618.0,814.1 626.0,824.3 634.0,836.0 642.0,846.7 650.0,822.1 658.0,809.7 666.0,806.4 674.0,821.6 682.0,829.3 690.0,829.0 698.0,822.3 706.0,816.7 714.0,802.6 722.0,795.3 730.0,804.6 738.0,801.0 746.0,801.8 754.0,788.3 762.0,792.1 770.0,789.0 778.0,787.6 786.0,788.5 794.0,797.2 802.0,808.3 810.0,805.6 818.0,803.7 826.0,793.9 834.0,795.0 842.0,787.3 850.0,797.2 858.0,810.1 866.0,834.2 874.0,829.1 882.0,812.5 890.0,818.1 898.0,839.1 906.0,858.3 914.0,858.6 922.0,855.3 930.0,855.9 938.0,853.2 946.0,856.0 954.0,847.5 962.0,854.5 970.0,851.2 978.0,845.1 986.0,833.7 994.0,828.4 1002.0,833.9 1010.0,842.8 1018.0,855.4 1026.0,852.4 1034.0,841.0 1042.0,819.7 1050.0,806.2 1058.0,791.9 1066.0,792.5 1074.0,812.8 1082.0,839.2 1090.0,850.7 1098.0,820.3 1106.0,791.5 1114.0,783.6 1122.0,787.1 1130.0,791.3 1138.0,789.0 1146.0,792.1 1154.0,804.1 1162.0,814.3 1170.0,813.5 1178.0,807.3 1186.0,813.9 1194.0,824.1 1202.0,831.9 1210.0,823.1 1218.0,823.9 1226.0,822.8" fill="none" stroke="#20B2AA" stroke-width="1" stroke-linejoin="round" />
<polyline points="2.0,819.8 10.0,830.2 18.0,839.8 26.0,853.0 34.0,853.5 42.0,849.0 50.0,839.8 58.0,831.8 66.0,824.9 74.0,817.9 82.0,813.8 90.0,812.7 98.0,820.6 106.0,836.0 114.0,848.3 122.0,853.4 130.0,849.2 138.0,844.5 146.0,839.7 154.0,837.7 162.0,842.4 170.0,851.0 178.0,852.6 186.0,842.1 194.0,823.1 202.0,806.0 210.0,793.5 218.0,787.1 226.0,786.4 234.0,792.8 242.0,807.4 250.0,827.0 258.0,845.3 266.0,852.4 274.0,852.6 282.0,848.7 290.0,849.2 298.0,850.2 306.0,853.0 314.0,849.5 322.0,839.3 330.0,822.9 338.0,811.2 346.0,803.7 354.0,804.4 362.0,813.7 370.0,830.2 378.0,844.2 386.0,848.1 394.0,839.1 402.0,822.7 410.0,802.3 418.0,790.9 426.0,785.3 434.0,785.4 442.0,783.0 450.0,782.2 458.0,783.1 466.0,789.4 474.0,802.1 482.0,824.3 490.0,843.6 498.0,851.9 506.0,844.0 514.0,827.7 522.0,815.5 530.0,809.5 538.0,810.0 546.0,803.5 554.0,794.5 562.0,791.6 570.0,800.9 578.0,816.2 586.0,824.8 594.0,824.8 602.0,821.4 610.0,816.5 618.0,815.3 626.0,816.8 634.0,824.8 642.0,835.7 650.0,834.9 658.0,826.2 666.0,812.8 674.0,812.6 682.0,819.1 690.0,826.7 698.0,826.9 706.0,822.7 714.0,813.9 722.0,804.9 730.0,800.9 738.0,800.3 746.0,802.5 754.0,797.0 762.0,794.0 770.0,789.8 778.0,789.6 786.0,788.4 794.0,791.1 802.0,798.0 810.0,803.7 818.0,805.9 826.0,801.1 834.0,797.5 842.0,792.1 850.0,793.2 858.0,798.2 866.0,813.8 874.0,824.4 882.0,825.2 890.0,819.9 898.0,823.2 906.0,838.5 914.0,852.0 922.0,857.4 930.0,856.6 938.0,854.8 946.0,855.0 954.0,852.2 962.0,852.7 970.0,851.1 978.0,850.3 986.0,843.3 994.0,835.7 1002.0,832.0 1010.0,835.0 1018.0,844.0 1026.0,850.2 1034.0,849.6 1042.0,837.7 1050.0,822.3 1058.0,805.9 1066.0,796.9 1074.0,799.1 1082.0,814.8 1090.0,834.2 1098.0,836.7 1106.0,820.8 1114.0,798.5 1122.0,787.4 1130.0,787.4 1138.0,789.1 1146.0,790.8 1154.0,795.0 1162.0,803.5 1170.0,810.6 1178.0,811.7 1186.0,811.6 1194.0,815.1 1202.0,823.3 1210.0,826.4 1218.0,826.3 1226.0,823.3" fill="none" stroke="#FF0000" stroke-width="1" stroke-linejoin="round" stroke-dasharray="3 3"/>
</g>
<text x="5.5" y="791" font-size="9.5" fill="#000" textLength="102" lengthAdjust="spacingAndGlyphs" >Stoch(5,3,3) 50.97 50.96</text>
<text x="1606.5" y="787.1" font-size="9.5" fill="#000" textLength="26.5" lengthAdjust="spacingAndGlyphs" >100.00</text>
<line x1="1601" y1="796.5" x2="1605" y2="796.5" stroke="#000" stroke-width="1" shape-rendering="crispEdges"/>
<text x="1606.5" y="800.0" font-size="9.5" fill="#000" textLength="21" lengthAdjust="spacingAndGlyphs" >80.00</text>
<line x1="1601" y1="849.5" x2="1605" y2="849.5" stroke="#000" stroke-width="1" shape-rendering="crispEdges"/>
<text x="1606.5" y="853.0" font-size="9.5" fill="#000" textLength="21" lengthAdjust="spacingAndGlyphs" >20.00</text>
<text x="1606.5" y="864.6" font-size="9.5" fill="#000" textLength="16.5" lengthAdjust="spacingAndGlyphs" >0.00</text>
<line x1="1601" y1="779.5" x2="1605" y2="779.5" stroke="#000" stroke-width="1" shape-rendering="crispEdges"/>
<line x1="1601" y1="866.5" x2="1605" y2="866.5" stroke="#000" stroke-width="1" shape-rendering="crispEdges"/>
<line x1="2.5" y1="867" x2="2.5" y2="872" stroke="#000" stroke-width="1" shape-rendering="crispEdges"/>
<text x="2.5" y="880" font-size="9.5" fill="#000" textLength="52.5" lengthAdjust="spacingAndGlyphs" >29 Aug 2022</text>
<line x1="66.5" y1="867" x2="66.5" y2="872" stroke="#000" stroke-width="1" shape-rendering="crispEdges"/>
<text x="66.5" y="880" font-size="9.5" fill="#000" textLength="46.5" lengthAdjust="spacingAndGlyphs" >8 Sep 2022</text>
<line x1="130.5" y1="867" x2="130.5" y2="872" stroke="#000" stroke-width="1" shape-rendering="crispEdges"/>
<text x="130.5" y="880" font-size="9.5" fill="#000" textLength="52.5" lengthAdjust="spacingAndGlyphs" >20 Sep 2022</text>
<line x1="194.5" y1="867" x2="194.5" y2="872" stroke="#000" stroke-width="1" shape-rendering="crispEdges"/>
<text x="194.5" y="880" font-size="9.5" fill="#000" textLength="52.5" lengthAdjust="spacingAndGlyphs" >30 Sep 2022</text>
<line x1="258.5" y1="867" x2="258.5" y2="872" stroke="#000" stroke-width="1" shape-rendering="crispEdges"/>
<text x="258.5" y="880" font-size="9.5" fill="#000" textLength="52.5" lengthAdjust="spacingAndGlyphs" >12 Oct 2022</text>
<line x1="322.5" y1="867" x2="322.5" y2="872" stroke="#000" stroke-width="1" shape-rendering="crispEdges"/>
<text x="322.5" y="880" font-size="9.5" fill="#000" textLength="52.5" lengthAdjust="spacingAndGlyphs" >24 Oct 2022</text>
<line x1="386.5" y1="867" x2="386.5" y2="872" stroke="#000" stroke-width="1" shape-rendering="crispEdges"/>
<text x="386.5" y="880" font-size="9.5" fill="#000" textLength="46.5" lengthAdjust="spacingAndGlyphs" >3 Nov 2022</text>
<line x1="450.5" y1="867" x2="450.5" y2="872" stroke="#000" stroke-width="1" shape-rendering="crispEdges"/>
<text x="450.5" y="880" font-size="9.5" fill="#000" textLength="52.5" lengthAdjust="spacingAndGlyphs" >15 Nov 2022</text>
<line x1="514.5" y1="867" x2="514.5" y2="872" stroke="#000" stroke-width="1" shape-rendering="crispEdges"/>
<text x="514.5" y="880" font-size="9.5" fill="#000" textLength="52.5" lengthAdjust="spacingAndGlyphs" >25 Nov 2022</text>
<line x1="578.5" y1="867" x2="578.5" y2="872" stroke="#000" stroke-width="1" shape-rendering="crispEdges"/>
<text x="578.5" y="880" font-size="9.5" fill="#000" textLength="46.5" lengthAdjust="spacingAndGlyphs" >7 Dec 2022</text>
<line x1="642.5" y1="867" x2="642.5" y2="872" stroke="#000" stroke-width="1" shape-rendering="crispEdges"/>
<text x="642.5" y="880" font-size="9.5" fill="#000" textLength="52.5" lengthAdjust="spacingAndGlyphs" >19 Dec 2022</text>
<line x1="706.5" y1="867" x2="706.5" y2="872" stroke="#000" stroke-width="1" shape-rendering="crispEdges"/>
<text x="706.5" y="880" font-size="9.5" fill="#000" textLength="52.5" lengthAdjust="spacingAndGlyphs" >30 Dec 2022</text>
<line x1="770.5" y1="867" x2="770.5" y2="872" stroke="#000" stroke-width="1" shape-rendering="crispEdges"/>
<text x="770.5" y="880" font-size="9.5" fill="#000" textLength="52.5" lengthAdjust="spacingAndGlyphs" >12 Jan 2023</text>
<line x1="834.5" y1="867" x2="834.5" y2="872" stroke="#000" stroke-width="1" shape-rendering="crispEdges"/>
<text x="834.5" y="880" font-size="9.5" fill="#000" textLength="52.5" lengthAdjust="spacingAndGlyphs" >24 Jan 2023</text>
<line x1="898.5" y1="867" x2="898.5" y2="872" stroke="#000" stroke-width="1" shape-rendering="crispEdges"/>
<text x="898.5" y="880" font-size="9.5" fill="#000" textLength="46.5" lengthAdjust="spacingAndGlyphs" >3 Feb 2023</text>
<line x1="962.5" y1="867" x2="962.5" y2="872" stroke="#000" stroke-width="1" shape-rendering="crispEdges"/>
<text x="962.5" y="880" font-size="9.5" fill="#000" textLength="52.5" lengthAdjust="spacingAndGlyphs" >15 Feb 2023</text>
<line x1="1026.5" y1="867" x2="1026.5" y2="872" stroke="#000" stroke-width="1" shape-rendering="crispEdges"/>
<text x="1026.5" y="880" font-size="9.5" fill="#000" textLength="52.5" lengthAdjust="spacingAndGlyphs" >27 Feb 2023</text>
<line x1="1090.5" y1="867" x2="1090.5" y2="872" stroke="#000" stroke-width="1" shape-rendering="crispEdges"/>
<text x="1090.5" y="880" font-size="9.5" fill="#000" textLength="46.5" lengthAdjust="spacingAndGlyphs" >9 Mar 2023</text>
<line x1="1154.5" y1="867" x2="1154.5" y2="872" stroke="#000" stroke-width="1" shape-rendering="crispEdges"/>
<text x="1154.5" y="880" font-size="9.5" fill="#000" textLength="52.5" lengthAdjust="spacingAndGlyphs" >21 Mar 2023</text>
<line x1="1218.5" y1="867" x2="1218.5" y2="872" stroke="#000" stroke-width="1" shape-rendering="crispEdges"/>
<text x="1218.5" y="880" font-size="9.5" fill="#000" textLength="52.5" lengthAdjust="spacingAndGlyphs" >31 Mar 2023</text>
</svg></body></html>
